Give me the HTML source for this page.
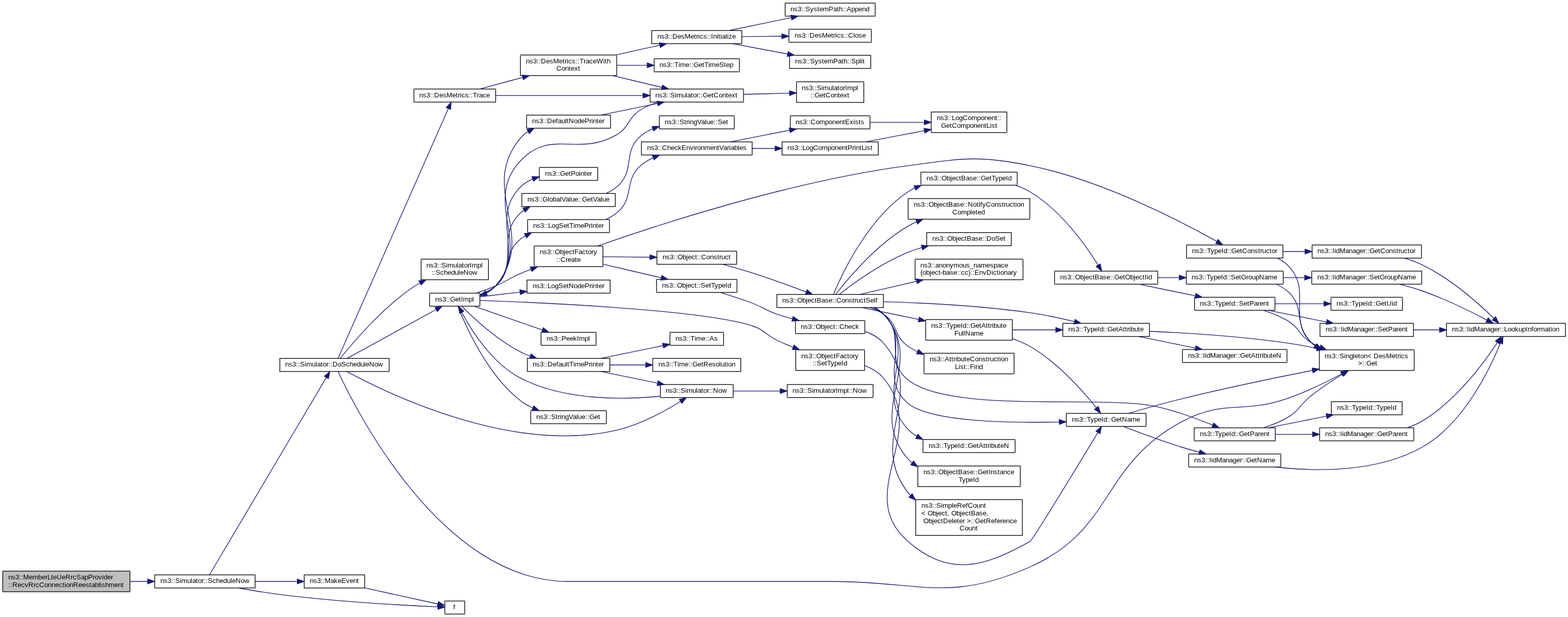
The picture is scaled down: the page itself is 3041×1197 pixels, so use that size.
<!DOCTYPE html>
<html lang="en">
<head>
<meta charset="utf-8">
<title>ns3::MemberLteUeRrcSapProvider::RecvRrcConnectionReestablishment call graph</title>
<style>
html,body{margin:0;padding:0;background:#fff;}
body{width:3041px;height:1197px;}
svg{display:block;will-change:transform;}
text{font-family:"Liberation Sans",Arial,Helvetica,sans-serif;font-size:13.3333px;fill:#000;white-space:pre;}
.n polygon{stroke:#000;stroke-width:1.3333;}
.n rect{shape-rendering:crispEdges;}
.n rect.b{fill:#000;}
.e path{fill:none;stroke:#191970;stroke-width:1.3333;}
.e polygon{fill:#191970;stroke:#191970;stroke-width:1.3333;}
</style>
</head>
<body>
<svg width="3041" height="1197" viewBox="0 0 3041 1197" role="img" aria-label="Call graph">
<rect x="0" y="0" width="3041" height="1197" fill="#ffffff"/>
<g class="n">
<rect class="f" x="5.33" y="1108" width="246.67" height="40" fill="#bfbfbf"/>
<rect class="b" x="5" y="1107" width="247" height="1" fill-opacity="0.667"/>
<rect class="b" x="4" y="1107" width="1" height="1" fill-opacity="0.222"/>
<rect class="b" x="252" y="1107" width="1" height="1" fill-opacity="0.444"/>
<rect class="b" x="5" y="1108" width="247" height="1" fill-opacity="0.667"/>
<rect class="b" x="4" y="1108" width="1" height="1" fill-opacity="0.222"/>
<rect class="b" x="252" y="1108" width="1" height="1" fill-opacity="0.444"/>
<rect class="b" x="5" y="1147" width="247" height="1" fill-opacity="0.667"/>
<rect class="b" x="4" y="1147" width="1" height="1" fill-opacity="0.222"/>
<rect class="b" x="252" y="1147" width="1" height="1" fill-opacity="0.444"/>
<rect class="b" x="5" y="1148" width="247" height="1" fill-opacity="0.667"/>
<rect class="b" x="4" y="1148" width="1" height="1" fill-opacity="0.222"/>
<rect class="b" x="252" y="1148" width="1" height="1" fill-opacity="0.444"/>
<rect class="b" x="4" y="1109" width="1" height="38" fill-opacity="0.333"/>
<rect class="b" x="5" y="1109" width="1" height="38"/>
<rect class="b" x="251" y="1109" width="1" height="38" fill-opacity="0.667"/>
<rect class="b" x="252" y="1109" width="1" height="38" fill-opacity="0.667"/>
<text x="16 23 30 37 41 45 56 63 74 81 88 92 99 103 110 120 127 137 141 148 157 164 171 180 184 191 198 201 208 215" y="1124">ns3::MemberLteUeRrcSapProvider</text>
<text x="16 20 24 34 41 48 55 65 69 76 86 93 100 107 114 121 125 128 135 142 152 159 166 173 177 184 191 194 197 204 211 222 229 236" y="1139">::RecvRrcConnectionReestablishment</text>
</g>
<g class="n">
<rect class="b" x="300" y="1114" width="195" height="1" fill-opacity="0.333"/>
<rect class="b" x="299" y="1114" width="1" height="1" fill-opacity="0.222"/>
<rect class="b" x="495" y="1114" width="1" height="1" fill-opacity="0.111"/>
<rect class="b" x="300" y="1115" width="195" height="1"/>
<rect class="b" x="299" y="1115" width="1" height="1" fill-opacity="0.667"/>
<rect class="b" x="495" y="1115" width="1" height="1" fill-opacity="0.333"/>
<rect class="b" x="300" y="1140" width="195" height="1"/>
<rect class="b" x="299" y="1140" width="1" height="1" fill-opacity="0.667"/>
<rect class="b" x="495" y="1140" width="1" height="1" fill-opacity="0.333"/>
<rect class="b" x="300" y="1141" width="195" height="1" fill-opacity="0.333"/>
<rect class="b" x="299" y="1141" width="1" height="1" fill-opacity="0.222"/>
<rect class="b" x="495" y="1141" width="1" height="1" fill-opacity="0.111"/>
<rect class="b" x="299" y="1116" width="1" height="24" fill-opacity="0.667"/>
<rect class="b" x="300" y="1116" width="1" height="24" fill-opacity="0.667"/>
<rect class="b" x="494" y="1116" width="1" height="24"/>
<rect class="b" x="495" y="1116" width="1" height="24" fill-opacity="0.333"/>
<text x="311 318 325 332 336 340 349 352 363 370 373 380 384 391 395 399 403 412 419 426 433 440 447 450 457 467 474" y="1131">ns3::Simulator::ScheduleNow</text>
</g>
<g class="e"><path d="M252.11,1128C263.47,1128 274.93,1128 286.17,1128"/><polygon points="286.41,1123.33 299.75,1128 286.41,1132.67 286.41,1123.33"/></g>
<g class="n">
<rect class="b" x="542" y="694" width="213" height="1" fill-opacity="0.333"/>
<rect class="b" x="755" y="694" width="1" height="1" fill-opacity="0.111"/>
<rect class="b" x="542" y="695" width="213" height="1"/>
<rect class="b" x="755" y="695" width="1" height="1" fill-opacity="0.333"/>
<rect class="b" x="542" y="720" width="213" height="1"/>
<rect class="b" x="755" y="720" width="1" height="1" fill-opacity="0.333"/>
<rect class="b" x="542" y="721" width="213" height="1" fill-opacity="0.333"/>
<rect class="b" x="755" y="721" width="1" height="1" fill-opacity="0.111"/>
<rect class="b" x="542" y="696" width="1" height="24"/>
<rect class="b" x="543" y="696" width="1" height="24" fill-opacity="0.333"/>
<rect class="b" x="754" y="696" width="1" height="24"/>
<rect class="b" x="755" y="696" width="1" height="24" fill-opacity="0.333"/>
<text x="553 560 567 574 578 582 591 594 605 612 615 622 626 633 637 641 645 655 662 671 678 685 692 699 706 709 716 726 733" y="711">ns3::Simulator::DoScheduleNow</text>
</g>
<g class="e"><path d="M406.39,1114.97C441.48,1055.68 586.39,810.95 632.89,732.39"/><polygon points="628.89,729.97 639.71,720.88 636.93,734.73 628.89,729.97"/></g>
<g class="n">
<rect class="b" x="862" y="1165" width="40" height="1" fill-opacity="0.667"/>
<rect class="b" x="862" y="1166" width="40" height="1" fill-opacity="0.667"/>
<rect class="b" x="862" y="1190" width="40" height="1" fill-opacity="0.333"/>
<rect class="b" x="862" y="1191" width="40" height="1"/>
<rect class="b" x="862" y="1167" width="1" height="23"/>
<rect class="b" x="863" y="1167" width="1" height="23" fill-opacity="0.333"/>
<rect class="b" x="900" y="1167" width="1" height="23" fill-opacity="0.333"/>
<rect class="b" x="901" y="1167" width="1" height="23"/>
<text x="879" y="1182">f</text>
</g>
<g class="e"><path d="M462.97,1140.72C487.8,1145.27 516.47,1150.05 542.67,1153.33 654.89,1167.37 789.15,1174.61 849.07,1177.35"/><polygon points="849.53,1172.69 862.65,1177.95 849.12,1182.03 849.53,1172.69"/></g>
<g class="n">
<rect class="b" x="590" y="1114" width="118" height="1" fill-opacity="0.333"/>
<rect class="b" x="589" y="1114" width="1" height="1" fill-opacity="0.222"/>
<rect class="b" x="590" y="1115" width="118" height="1"/>
<rect class="b" x="589" y="1115" width="1" height="1" fill-opacity="0.667"/>
<rect class="b" x="590" y="1140" width="118" height="1"/>
<rect class="b" x="589" y="1140" width="1" height="1" fill-opacity="0.667"/>
<rect class="b" x="590" y="1141" width="118" height="1" fill-opacity="0.333"/>
<rect class="b" x="589" y="1141" width="1" height="1" fill-opacity="0.222"/>
<rect class="b" x="589" y="1116" width="1" height="24" fill-opacity="0.667"/>
<rect class="b" x="590" y="1116" width="1" height="24" fill-opacity="0.667"/>
<rect class="b" x="706" y="1116" width="1" height="24" fill-opacity="0.333"/>
<rect class="b" x="707" y="1116" width="1" height="24"/>
<text x="601 608 615 622 626 630 641 648 655 662 671 678 685 692" y="1131">ns3::MakeEvent</text>
</g>
<g class="e"><path d="M494.81,1128C521.91,1128 550.89,1128 576.24,1128"/><polygon points="576.57,1123.33 589.91,1128 576.57,1132.67 576.57,1123.33"/></g>
<g class="n">
<rect class="b" x="2558" y="678" width="185" height="1"/>
<rect class="b" x="2743" y="678" width="1" height="1" fill-opacity="0.333"/>
<rect class="b" x="2558" y="679" width="185" height="1" fill-opacity="0.333"/>
<rect class="b" x="2743" y="679" width="1" height="1" fill-opacity="0.111"/>
<rect class="b" x="2558" y="718" width="185" height="1"/>
<rect class="b" x="2743" y="718" width="1" height="1" fill-opacity="0.333"/>
<rect class="b" x="2558" y="719" width="185" height="1" fill-opacity="0.333"/>
<rect class="b" x="2743" y="719" width="1" height="1" fill-opacity="0.111"/>
<rect class="b" x="2558" y="680" width="1" height="38"/>
<rect class="b" x="2559" y="680" width="1" height="38" fill-opacity="0.333"/>
<rect class="b" x="2742" y="680" width="1" height="38"/>
<rect class="b" x="2743" y="680" width="1" height="38" fill-opacity="0.333"/>
<text x="2569 2576 2583 2590 2594 2598 2607 2610 2617 2624 2627 2634 2638 2645 2652 2660 2664 2674 2681 2688 2699 2706 2710 2714 2717 2724" y="695">ns3::Singleton&lt; DesMetrics</text>
<text xml:space="preserve" x="2630 2634 2642 2646 2650 2660 2667" y="709"> &gt;::Get</text>
</g>
<g class="e"><path d="M655.83,721.03C688.48,791.92 856.23,1128 1101.33,1128 1101.33,1128 1101.33,1128 1611.33,1128 1783.33,1128 1840.09,1169.72 1997.33,1100 2163.63,1026.27 2132.67,902.64 2293.33,817.33 2374.75,774.11 2408.91,803.51 2496,773.33 2532.72,760.61 2572.09,741.31 2601.75,725.52"/><polygon points="2599.88,721.23 2613.83,718.99 2604.31,729.44 2599.88,721.23"/></g>
<g class="n">
<rect class="b" x="833" y="568" width="98" height="1"/>
<rect class="b" x="832" y="568" width="1" height="1" fill-opacity="0.333"/>
<rect class="b" x="931" y="568" width="1" height="1" fill-opacity="0.333"/>
<rect class="b" x="833" y="569" width="98" height="1" fill-opacity="0.333"/>
<rect class="b" x="832" y="569" width="1" height="1" fill-opacity="0.111"/>
<rect class="b" x="931" y="569" width="1" height="1" fill-opacity="0.111"/>
<rect class="b" x="833" y="593" width="98" height="1" fill-opacity="0.667"/>
<rect class="b" x="832" y="593" width="1" height="1" fill-opacity="0.222"/>
<rect class="b" x="931" y="593" width="1" height="1" fill-opacity="0.222"/>
<rect class="b" x="833" y="594" width="98" height="1" fill-opacity="0.667"/>
<rect class="b" x="832" y="594" width="1" height="1" fill-opacity="0.222"/>
<rect class="b" x="931" y="594" width="1" height="1" fill-opacity="0.222"/>
<rect class="b" x="832" y="570" width="1" height="23" fill-opacity="0.333"/>
<rect class="b" x="833" y="570" width="1" height="23"/>
<rect class="b" x="930" y="570" width="1" height="23"/>
<rect class="b" x="931" y="570" width="1" height="23" fill-opacity="0.333"/>
<text x="844 851 858 865 869 873 883 890 894 898 909 916" y="585">ns3::GetImpl</text>
</g>
<g class="e"><path d="M673.39,695.16C714.08,672.81 798.09,626.68 845.72,600.52"/><polygon points="843.63,596.35 857.56,594.03 848.12,604.53 843.63,596.35"/></g>
<g class="n">
<rect class="b" x="1280" y="745" width="142" height="1" fill-opacity="0.667"/>
<rect class="b" x="1422" y="745" width="1" height="1" fill-opacity="0.444"/>
<rect class="b" x="1280" y="746" width="142" height="1" fill-opacity="0.667"/>
<rect class="b" x="1422" y="746" width="1" height="1" fill-opacity="0.444"/>
<rect class="b" x="1280" y="770" width="142" height="1" fill-opacity="0.333"/>
<rect class="b" x="1422" y="770" width="1" height="1" fill-opacity="0.222"/>
<rect class="b" x="1280" y="771" width="142" height="1"/>
<rect class="b" x="1422" y="771" width="1" height="1" fill-opacity="0.667"/>
<rect class="b" x="1280" y="747" width="1" height="23"/>
<rect class="b" x="1281" y="747" width="1" height="23" fill-opacity="0.333"/>
<rect class="b" x="1421" y="747" width="1" height="23" fill-opacity="0.667"/>
<rect class="b" x="1422" y="747" width="1" height="23" fill-opacity="0.667"/>
<text x="1291 1298 1305 1312 1316 1320 1329 1332 1343 1350 1353 1360 1364 1371 1375 1379 1383 1393 1400" y="762">ns3::Simulator::Now</text>
</g>
<g class="e"><path d="M672.89,720.93C747.92,761.68 993.2,881.99 1196,834.67 1241.93,823.95 1289.91,797.45 1319.85,778.77"/><polygon points="1317.41,774.8 1331.16,771.56 1322.43,782.67 1317.41,774.8"/></g>
<g class="n">
<rect class="b" x="816" y="502" width="132" height="1"/>
<rect class="b" x="816" y="503" width="132" height="1" fill-opacity="0.333"/>
<rect class="b" x="816" y="542" width="132" height="1"/>
<rect class="b" x="816" y="543" width="132" height="1" fill-opacity="0.333"/>
<rect class="b" x="816" y="504" width="1" height="38"/>
<rect class="b" x="817" y="504" width="1" height="38" fill-opacity="0.333"/>
<rect class="b" x="946" y="504" width="1" height="38" fill-opacity="0.333"/>
<rect class="b" x="947" y="504" width="1" height="38"/>
<text x="827 834 841 848 852 856 865 868 879 886 889 896 900 907 911 915 926 933" y="519">ns3::SimulatorImpl</text>
<text x="837 841 845 854 861 868 875 882 889 892 899 909 916" y="533">::ScheduleNow</text>
</g>
<g class="e"><path d="M660.16,694.95C682.95,666.39 740.97,597.63 802.67,556 806.33,553.53 810.2,551.17 814.19,548.96"/><polygon points="812.4,544.63 826.39,542.68 816.68,552.93 812.4,544.63"/></g>
<g class="n">
<rect class="b" x="802" y="172" width="160" height="1"/>
<rect class="b" x="802" y="173" width="160" height="1" fill-opacity="0.333"/>
<rect class="b" x="802" y="197" width="160" height="1" fill-opacity="0.667"/>
<rect class="b" x="802" y="198" width="160" height="1" fill-opacity="0.667"/>
<rect class="b" x="802" y="174" width="1" height="23"/>
<rect class="b" x="803" y="174" width="1" height="23" fill-opacity="0.333"/>
<rect class="b" x="960" y="174" width="1" height="23" fill-opacity="0.333"/>
<rect class="b" x="961" y="174" width="1" height="23"/>
<text x="813 820 827 834 838 842 852 859 866 877 884 888 892 895 902 909 913 917 925 929 936 943" y="189">ns3::DesMetrics::Trace</text>
</g>
<g class="e"><path d="M655.71,695.08C685.99,626.45 828.2,304.21 869.44,210.79"/><polygon points="865.31,208.59 874.96,198.27 873.84,212.35 865.31,208.59"/></g>
<g class="n">
<rect class="b" x="1036" y="476" width="134" height="1" fill-opacity="0.333"/>
<rect class="b" x="1035" y="476" width="1" height="1" fill-opacity="0.222"/>
<rect class="b" x="1036" y="477" width="134" height="1"/>
<rect class="b" x="1035" y="477" width="1" height="1" fill-opacity="0.667"/>
<rect class="b" x="1036" y="516" width="134" height="1" fill-opacity="0.333"/>
<rect class="b" x="1035" y="516" width="1" height="1" fill-opacity="0.222"/>
<rect class="b" x="1036" y="517" width="134" height="1"/>
<rect class="b" x="1035" y="517" width="1" height="1" fill-opacity="0.667"/>
<rect class="b" x="1035" y="478" width="1" height="38" fill-opacity="0.667"/>
<rect class="b" x="1036" y="478" width="1" height="38" fill-opacity="0.667"/>
<rect class="b" x="1168" y="478" width="1" height="38" fill-opacity="0.333"/>
<rect class="b" x="1169" y="478" width="1" height="38"/>
<text x="1047 1054 1061 1068 1072 1076 1086 1093 1096 1103 1110 1114 1122 1129 1136 1140 1147 1151" y="493">ns3::ObjectFactory</text>
<text x="1079 1083 1087 1097 1101 1108 1115 1119" y="508">::Create</text>
</g>
<g class="e"><path d="M923.8,568.65C935.99,564.52 949.32,559.69 961.33,554.67 983.33,545.45 987.41,540.08 1009.33,530.67 1015.97,527.81 1022.93,525 1029.95,522.27"/><polygon points="1028.41,517.87 1042.53,517.48 1031.73,526.59 1028.41,517.87"/></g>
<g class="n">
<rect class="b" x="1021" y="222" width="163" height="1" fill-opacity="0.333"/>
<rect class="b" x="1020" y="222" width="1" height="1" fill-opacity="0.111"/>
<rect class="b" x="1184" y="222" width="1" height="1" fill-opacity="0.222"/>
<rect class="b" x="1021" y="223" width="163" height="1"/>
<rect class="b" x="1020" y="223" width="1" height="1" fill-opacity="0.333"/>
<rect class="b" x="1184" y="223" width="1" height="1" fill-opacity="0.667"/>
<rect class="b" x="1021" y="248" width="163" height="1"/>
<rect class="b" x="1020" y="248" width="1" height="1" fill-opacity="0.333"/>
<rect class="b" x="1184" y="248" width="1" height="1" fill-opacity="0.667"/>
<rect class="b" x="1021" y="249" width="163" height="1" fill-opacity="0.333"/>
<rect class="b" x="1020" y="249" width="1" height="1" fill-opacity="0.111"/>
<rect class="b" x="1184" y="249" width="1" height="1" fill-opacity="0.222"/>
<rect class="b" x="1020" y="224" width="1" height="24" fill-opacity="0.333"/>
<rect class="b" x="1021" y="224" width="1" height="24"/>
<rect class="b" x="1183" y="224" width="1" height="24" fill-opacity="0.667"/>
<rect class="b" x="1184" y="224" width="1" height="24" fill-opacity="0.667"/>
<text x="1032 1039 1046 1053 1057 1061 1071 1078 1082 1089 1096 1099 1103 1113 1120 1127 1134 1143 1147 1150 1157 1161 1168" y="239">ns3::DefaultNodePrinter</text>
</g>
<g class="e"><path d="M930.71,573.95C942.21,570 953.47,563.95 961.33,554.67 1044.91,456.17 926.01,366.72 1009.33,268 1013.55,263.01 1018.57,258.8 1024.08,255.24"/><polygon points="1022,251.07 1035.96,248.83 1026.44,259.28 1022,251.07"/></g>
<g class="n">
<rect class="b" x="1022" y="694" width="161" height="1" fill-opacity="0.333"/>
<rect class="b" x="1183" y="694" width="1" height="1" fill-opacity="0.111"/>
<rect class="b" x="1022" y="695" width="161" height="1"/>
<rect class="b" x="1183" y="695" width="1" height="1" fill-opacity="0.333"/>
<rect class="b" x="1022" y="720" width="161" height="1"/>
<rect class="b" x="1183" y="720" width="1" height="1" fill-opacity="0.333"/>
<rect class="b" x="1022" y="721" width="161" height="1" fill-opacity="0.333"/>
<rect class="b" x="1183" y="721" width="1" height="1" fill-opacity="0.111"/>
<rect class="b" x="1022" y="696" width="1" height="24"/>
<rect class="b" x="1023" y="696" width="1" height="24" fill-opacity="0.333"/>
<rect class="b" x="1182" y="696" width="1" height="24"/>
<rect class="b" x="1183" y="696" width="1" height="24" fill-opacity="0.333"/>
<text x="1033 1040 1047 1054 1058 1062 1072 1079 1083 1090 1097 1100 1104 1112 1115 1126 1133 1142 1146 1149 1156 1160 1167" y="711">ns3::DefaultTimePrinter</text>
</g>
<g class="e"><path d="M895.68,594.24C916.91,615.71 962.6,658.75 1009.33,682.67 1015.36,685.75 1021.8,688.49 1028.37,690.92"/><polygon points="1029.96,686.53 1041.09,695.23 1026.97,695.37 1029.96,686.53"/></g>
<g class="n">
<rect class="b" x="1029" y="796" width="147" height="1"/>
<rect class="b" x="1028" y="796" width="1" height="1" fill-opacity="0.333"/>
<rect class="b" x="1176" y="796" width="1" height="1" fill-opacity="0.667"/>
<rect class="b" x="1029" y="797" width="147" height="1" fill-opacity="0.333"/>
<rect class="b" x="1028" y="797" width="1" height="1" fill-opacity="0.111"/>
<rect class="b" x="1176" y="797" width="1" height="1" fill-opacity="0.222"/>
<rect class="b" x="1029" y="821" width="147" height="1" fill-opacity="0.667"/>
<rect class="b" x="1028" y="821" width="1" height="1" fill-opacity="0.222"/>
<rect class="b" x="1176" y="821" width="1" height="1" fill-opacity="0.444"/>
<rect class="b" x="1029" y="822" width="147" height="1" fill-opacity="0.667"/>
<rect class="b" x="1028" y="822" width="1" height="1" fill-opacity="0.222"/>
<rect class="b" x="1176" y="822" width="1" height="1" fill-opacity="0.444"/>
<rect class="b" x="1028" y="798" width="1" height="23" fill-opacity="0.333"/>
<rect class="b" x="1029" y="798" width="1" height="23"/>
<rect class="b" x="1175" y="798" width="1" height="23" fill-opacity="0.667"/>
<rect class="b" x="1176" y="798" width="1" height="23" fill-opacity="0.667"/>
<text x="1040 1047 1054 1061 1065 1069 1078 1082 1086 1089 1096 1103 1111 1118 1121 1128 1135 1139 1143 1153 1160" y="813">ns3::StringValue::Get</text>
</g>
<g class="e"><path d="M888.19,594.43C901.77,629.35 943.55,725.52 1009.33,777.33 1016.48,782.96 1024.67,787.63 1033.17,791.51"/><polygon points="1035.16,787.27 1045.75,796.63 1031.63,795.92 1035.16,787.27"/></g>
<g class="n">
<rect class="b" x="1046" y="324" width="114" height="1"/>
<rect class="b" x="1045" y="324" width="1" height="1" fill-opacity="0.667"/>
<rect class="b" x="1046" y="325" width="114" height="1" fill-opacity="0.333"/>
<rect class="b" x="1045" y="325" width="1" height="1" fill-opacity="0.222"/>
<rect class="b" x="1046" y="349" width="114" height="1" fill-opacity="0.667"/>
<rect class="b" x="1045" y="349" width="1" height="1" fill-opacity="0.444"/>
<rect class="b" x="1046" y="350" width="114" height="1" fill-opacity="0.667"/>
<rect class="b" x="1045" y="350" width="1" height="1" fill-opacity="0.444"/>
<rect class="b" x="1045" y="326" width="1" height="23" fill-opacity="0.667"/>
<rect class="b" x="1046" y="326" width="1" height="23" fill-opacity="0.667"/>
<rect class="b" x="1158" y="326" width="1" height="23" fill-opacity="0.333"/>
<rect class="b" x="1159" y="326" width="1" height="23"/>
<text x="1057 1064 1071 1078 1082 1086 1096 1103 1107 1116 1123 1126 1133 1137 1144" y="341">ns3::GetPointer</text>
</g>
<g class="e"><path d="M931.04,573.24C942.27,569.29 953.29,563.41 961.33,554.67 1020.85,489.89 947.88,425.6 1009.33,362.67 1015.87,355.97 1023.99,351 1032.68,347.32"/><polygon points="1031.59,342.76 1045.72,342.79 1034.65,351.57 1031.59,342.76"/></g>
<g class="n">
<rect class="b" x="1012" y="374" width="182" height="1" fill-opacity="0.333"/>
<rect class="b" x="1011" y="374" width="1" height="1" fill-opacity="0.222"/>
<rect class="b" x="1012" y="375" width="182" height="1"/>
<rect class="b" x="1011" y="375" width="1" height="1" fill-opacity="0.667"/>
<rect class="b" x="1012" y="400" width="182" height="1"/>
<rect class="b" x="1011" y="400" width="1" height="1" fill-opacity="0.667"/>
<rect class="b" x="1012" y="401" width="182" height="1" fill-opacity="0.333"/>
<rect class="b" x="1011" y="401" width="1" height="1" fill-opacity="0.222"/>
<rect class="b" x="1011" y="376" width="1" height="24" fill-opacity="0.667"/>
<rect class="b" x="1012" y="376" width="1" height="24" fill-opacity="0.667"/>
<rect class="b" x="1192" y="376" width="1" height="24" fill-opacity="0.333"/>
<rect class="b" x="1193" y="376" width="1" height="24"/>
<text x="1023 1030 1037 1044 1048 1052 1062 1065 1072 1079 1086 1089 1097 1104 1107 1114 1121 1125 1129 1139 1146 1150 1158 1165 1168 1175" y="391">ns3::GlobalValue::GetValue</text>
</g>
<g class="e"><path d="M930.96,572.64C942.07,568.69 953.04,562.97 961.33,554.67 1008.2,507.71 961.07,458.84 1009.33,413.33 1011.53,411.25 1013.89,409.35 1016.37,407.59"/><polygon points="1014.05,403.55 1027.92,400.84 1018.76,411.6 1014.05,403.55"/></g>
<g class="n">
<rect class="b" x="1022" y="542" width="162" height="1" fill-opacity="0.333"/>
<rect class="b" x="1021" y="542" width="1" height="1" fill-opacity="0.222"/>
<rect class="b" x="1022" y="543" width="162" height="1"/>
<rect class="b" x="1021" y="543" width="1" height="1" fill-opacity="0.667"/>
<rect class="b" x="1022" y="568" width="162" height="1"/>
<rect class="b" x="1021" y="568" width="1" height="1" fill-opacity="0.667"/>
<rect class="b" x="1022" y="569" width="162" height="1" fill-opacity="0.333"/>
<rect class="b" x="1021" y="569" width="1" height="1" fill-opacity="0.222"/>
<rect class="b" x="1021" y="544" width="1" height="24" fill-opacity="0.667"/>
<rect class="b" x="1022" y="544" width="1" height="24" fill-opacity="0.667"/>
<rect class="b" x="1182" y="544" width="1" height="24" fill-opacity="0.333"/>
<rect class="b" x="1183" y="544" width="1" height="24"/>
<text x="1033 1040 1047 1054 1058 1062 1069 1076 1083 1092 1099 1103 1113 1120 1127 1134 1143 1147 1150 1157 1161 1168" y="559">ns3::LogSetNodePrinter</text>
</g>
<g class="e"><path d="M931.17,575.77C953.91,573.13 981.88,569.88 1008.53,566.79"/><polygon points="1008.12,562.13 1021.91,565.23 1009.2,571.4 1008.12,562.13"/></g>
<g class="n">
<rect class="b" x="1023" y="425" width="159" height="1" fill-opacity="0.667"/>
<rect class="b" x="1022" y="425" width="1" height="1" fill-opacity="0.222"/>
<rect class="b" x="1182" y="425" width="1" height="1" fill-opacity="0.444"/>
<rect class="b" x="1023" y="426" width="159" height="1" fill-opacity="0.667"/>
<rect class="b" x="1022" y="426" width="1" height="1" fill-opacity="0.222"/>
<rect class="b" x="1182" y="426" width="1" height="1" fill-opacity="0.444"/>
<rect class="b" x="1023" y="450" width="159" height="1" fill-opacity="0.333"/>
<rect class="b" x="1022" y="450" width="1" height="1" fill-opacity="0.111"/>
<rect class="b" x="1182" y="450" width="1" height="1" fill-opacity="0.222"/>
<rect class="b" x="1023" y="451" width="159" height="1"/>
<rect class="b" x="1022" y="451" width="1" height="1" fill-opacity="0.333"/>
<rect class="b" x="1182" y="451" width="1" height="1" fill-opacity="0.667"/>
<rect class="b" x="1022" y="427" width="1" height="23" fill-opacity="0.333"/>
<rect class="b" x="1023" y="427" width="1" height="23"/>
<rect class="b" x="1181" y="427" width="1" height="23" fill-opacity="0.667"/>
<rect class="b" x="1182" y="427" width="1" height="23" fill-opacity="0.667"/>
<text x="1034 1041 1048 1055 1059 1063 1070 1077 1084 1093 1100 1104 1112 1115 1126 1133 1142 1146 1149 1156 1160 1167" y="442">ns3::LogSetTimePrinter</text>
</g>
<g class="e"><path d="M930.89,571.39C941.75,567.49 952.63,562.11 961.33,554.67 996.01,525.07 973.77,492.53 1009.33,464 1012.36,461.57 1015.6,459.37 1019,457.39"/><polygon points="1017.03,453.16 1031.04,451.41 1021.17,461.52 1017.03,453.16"/></g>
<g class="n">
<rect class="b" x="1049" y="644" width="107" height="1"/>
<rect class="b" x="1048" y="644" width="1" height="1" fill-opacity="0.333"/>
<rect class="b" x="1156" y="644" width="1" height="1" fill-opacity="0.667"/>
<rect class="b" x="1049" y="645" width="107" height="1" fill-opacity="0.333"/>
<rect class="b" x="1048" y="645" width="1" height="1" fill-opacity="0.111"/>
<rect class="b" x="1156" y="645" width="1" height="1" fill-opacity="0.222"/>
<rect class="b" x="1049" y="669" width="107" height="1" fill-opacity="0.667"/>
<rect class="b" x="1048" y="669" width="1" height="1" fill-opacity="0.222"/>
<rect class="b" x="1156" y="669" width="1" height="1" fill-opacity="0.444"/>
<rect class="b" x="1049" y="670" width="107" height="1" fill-opacity="0.667"/>
<rect class="b" x="1048" y="670" width="1" height="1" fill-opacity="0.222"/>
<rect class="b" x="1156" y="670" width="1" height="1" fill-opacity="0.444"/>
<rect class="b" x="1048" y="646" width="1" height="23" fill-opacity="0.333"/>
<rect class="b" x="1049" y="646" width="1" height="23"/>
<rect class="b" x="1155" y="646" width="1" height="23" fill-opacity="0.667"/>
<rect class="b" x="1156" y="646" width="1" height="23" fill-opacity="0.667"/>
<text x="1060 1067 1074 1081 1085 1089 1098 1105 1112 1119 1123 1134 1141" y="661">ns3::PeekImpl</text>
</g>
<g class="e"><path d="M919.72,594.05C944.88,602.84 979.13,614.81 1009.33,625.33 1023.13,630.15 1038.09,635.35 1051.87,640.13"/><polygon points="1053.56,635.79 1064.61,644.57 1050.49,644.6 1053.56,635.79"/></g>
<g class="n">
<rect class="b" x="1543" y="678" width="134" height="1"/>
<rect class="b" x="1542" y="678" width="1" height="1" fill-opacity="0.333"/>
<rect class="b" x="1677" y="678" width="1" height="1" fill-opacity="0.333"/>
<rect class="b" x="1543" y="679" width="134" height="1" fill-opacity="0.333"/>
<rect class="b" x="1542" y="679" width="1" height="1" fill-opacity="0.111"/>
<rect class="b" x="1677" y="679" width="1" height="1" fill-opacity="0.111"/>
<rect class="b" x="1543" y="718" width="134" height="1"/>
<rect class="b" x="1542" y="718" width="1" height="1" fill-opacity="0.333"/>
<rect class="b" x="1677" y="718" width="1" height="1" fill-opacity="0.333"/>
<rect class="b" x="1543" y="719" width="134" height="1" fill-opacity="0.333"/>
<rect class="b" x="1542" y="719" width="1" height="1" fill-opacity="0.111"/>
<rect class="b" x="1677" y="719" width="1" height="1" fill-opacity="0.111"/>
<rect class="b" x="1542" y="680" width="1" height="38" fill-opacity="0.333"/>
<rect class="b" x="1543" y="680" width="1" height="38"/>
<rect class="b" x="1676" y="680" width="1" height="38"/>
<rect class="b" x="1677" y="680" width="1" height="38" fill-opacity="0.333"/>
<text x="1554 1561 1568 1575 1579 1583 1593 1600 1603 1610 1617 1621 1629 1636 1643 1647 1654 1658" y="695">ns3::ObjectFactory</text>
<text x="1576 1580 1584 1593 1600 1604 1611 1618 1625 1632 1636" y="709">::SetTypeId</text>
</g>
<g class="e"><path d="M931.08,582.85C1050.71,587.09 1360.72,600.85 1458.67,632 1482.2,639.48 1484.37,649.36 1506.67,660 1516.75,664.81 1527.59,669.45 1538.31,673.75"/><polygon points="1540.07,669.43 1550.79,678.63 1536.67,678.12 1540.07,669.43"/></g>
<g class="n">
<rect class="b" x="1274" y="486" width="155" height="1" fill-opacity="0.333"/>
<rect class="b" x="1273" y="486" width="1" height="1" fill-opacity="0.222"/>
<rect class="b" x="1429" y="486" width="1" height="1" fill-opacity="0.111"/>
<rect class="b" x="1274" y="487" width="155" height="1"/>
<rect class="b" x="1273" y="487" width="1" height="1" fill-opacity="0.667"/>
<rect class="b" x="1429" y="487" width="1" height="1" fill-opacity="0.333"/>
<rect class="b" x="1274" y="512" width="155" height="1"/>
<rect class="b" x="1273" y="512" width="1" height="1" fill-opacity="0.667"/>
<rect class="b" x="1429" y="512" width="1" height="1" fill-opacity="0.333"/>
<rect class="b" x="1274" y="513" width="155" height="1" fill-opacity="0.333"/>
<rect class="b" x="1273" y="513" width="1" height="1" fill-opacity="0.222"/>
<rect class="b" x="1429" y="513" width="1" height="1" fill-opacity="0.111"/>
<rect class="b" x="1273" y="488" width="1" height="24" fill-opacity="0.667"/>
<rect class="b" x="1274" y="488" width="1" height="24" fill-opacity="0.667"/>
<rect class="b" x="1428" y="488" width="1" height="24"/>
<rect class="b" x="1429" y="488" width="1" height="24" fill-opacity="0.333"/>
<text x="1285 1292 1299 1306 1310 1314 1324 1331 1334 1341 1348 1352 1356 1360 1370 1377 1384 1391 1395 1399 1406 1413" y="503">ns3::Object::Construct</text>
</g>
<g class="e"><path d="M1169.92,498.05C1197.69,498.35 1230.45,498.71 1260.36,499.03"/><polygon points="1260.59,494.36 1273.87,499.17 1260.49,503.69 1260.59,494.36"/></g>
<g class="n">
<rect class="b" x="2301" y="474" width="187" height="1" fill-opacity="0.333"/>
<rect class="b" x="2300" y="474" width="1" height="1" fill-opacity="0.111"/>
<rect class="b" x="2488" y="474" width="1" height="1" fill-opacity="0.222"/>
<rect class="b" x="2301" y="475" width="187" height="1"/>
<rect class="b" x="2300" y="475" width="1" height="1" fill-opacity="0.333"/>
<rect class="b" x="2488" y="475" width="1" height="1" fill-opacity="0.667"/>
<rect class="b" x="2301" y="500" width="187" height="1"/>
<rect class="b" x="2300" y="500" width="1" height="1" fill-opacity="0.333"/>
<rect class="b" x="2488" y="500" width="1" height="1" fill-opacity="0.667"/>
<rect class="b" x="2301" y="501" width="187" height="1" fill-opacity="0.333"/>
<rect class="b" x="2300" y="501" width="1" height="1" fill-opacity="0.111"/>
<rect class="b" x="2488" y="501" width="1" height="1" fill-opacity="0.222"/>
<rect class="b" x="2300" y="476" width="1" height="24" fill-opacity="0.333"/>
<rect class="b" x="2301" y="476" width="1" height="24"/>
<rect class="b" x="2487" y="476" width="1" height="24" fill-opacity="0.667"/>
<rect class="b" x="2488" y="476" width="1" height="24" fill-opacity="0.667"/>
<text x="2312 2319 2326 2333 2337 2341 2348 2355 2362 2369 2373 2380 2384 2388 2398 2405 2409 2419 2426 2433 2440 2444 2448 2455 2462 2466 2473" y="491">ns3::TypeId::GetConstructor</text>
</g>
<g class="e"><path d="M1159.28,477.24C1271.09,437.77 1532.93,351.39 1761.33,321.33 1865.32,307.65 1894.52,300.57 1997.33,321.33 2139.17,349.96 2293.45,430.92 2359.85,468.44"/><polygon points="2362.31,464.47 2371.57,475.13 2357.68,472.57 2362.31,464.47"/></g>
<g class="n">
<rect class="b" x="1273" y="541" width="157" height="1" fill-opacity="0.667"/>
<rect class="b" x="1272" y="541" width="1" height="1" fill-opacity="0.222"/>
<rect class="b" x="1273" y="542" width="157" height="1" fill-opacity="0.667"/>
<rect class="b" x="1272" y="542" width="1" height="1" fill-opacity="0.222"/>
<rect class="b" x="1273" y="566" width="157" height="1" fill-opacity="0.333"/>
<rect class="b" x="1272" y="566" width="1" height="1" fill-opacity="0.111"/>
<rect class="b" x="1273" y="567" width="157" height="1"/>
<rect class="b" x="1272" y="567" width="1" height="1" fill-opacity="0.333"/>
<rect class="b" x="1272" y="543" width="1" height="23" fill-opacity="0.333"/>
<rect class="b" x="1273" y="543" width="1" height="23"/>
<rect class="b" x="1428" y="543" width="1" height="23" fill-opacity="0.333"/>
<rect class="b" x="1429" y="543" width="1" height="23"/>
<text x="1284 1291 1298 1305 1309 1313 1323 1330 1333 1340 1347 1351 1355 1359 1368 1375 1379 1386 1393 1400 1407 1411" y="558">ns3::Object::SetTypeId</text>
</g>
<g class="e"><path d="M1169.92,512.69C1204.76,520.81 1247.43,530.76 1282.49,538.93"/><polygon points="1283.6,534.4 1295.53,541.97 1281.48,543.49 1283.6,534.4"/></g>
<g class="n">
<rect class="b" x="1506" y="570" width="208" height="1" fill-opacity="0.333"/>
<rect class="b" x="1506" y="571" width="208" height="1"/>
<rect class="b" x="1506" y="596" width="208" height="1"/>
<rect class="b" x="1506" y="597" width="208" height="1" fill-opacity="0.333"/>
<rect class="b" x="1506" y="572" width="1" height="24"/>
<rect class="b" x="1507" y="572" width="1" height="24" fill-opacity="0.333"/>
<rect class="b" x="1712" y="572" width="1" height="24" fill-opacity="0.333"/>
<rect class="b" x="1713" y="572" width="1" height="24"/>
<text x="1517 1524 1531 1538 1542 1546 1556 1563 1566 1573 1580 1584 1593 1600 1607 1614 1618 1622 1632 1639 1646 1653 1657 1661 1668 1675 1679 1688 1695 1698" y="587">ns3::ObjectBase::ConstructSelf</text>
</g>
<g class="e"><path d="M1401.99,512.77C1419.92,517.65 1440.29,523.45 1458.67,529.33 1494.15,540.69 1533.72,555.19 1563.31,566.4"/><polygon points="1565.36,562.19 1576.15,571.31 1562.03,570.91 1565.36,562.19"/></g>
<g class="n">
<rect class="b" x="1797" y="450" width="165" height="1" fill-opacity="0.333"/>
<rect class="b" x="1796" y="450" width="1" height="1" fill-opacity="0.111"/>
<rect class="b" x="1797" y="451" width="165" height="1"/>
<rect class="b" x="1796" y="451" width="1" height="1" fill-opacity="0.333"/>
<rect class="b" x="1797" y="476" width="165" height="1"/>
<rect class="b" x="1796" y="476" width="1" height="1" fill-opacity="0.333"/>
<rect class="b" x="1797" y="477" width="165" height="1" fill-opacity="0.333"/>
<rect class="b" x="1796" y="477" width="1" height="1" fill-opacity="0.111"/>
<rect class="b" x="1796" y="452" width="1" height="24" fill-opacity="0.333"/>
<rect class="b" x="1797" y="452" width="1" height="24"/>
<rect class="b" x="1960" y="452" width="1" height="24" fill-opacity="0.333"/>
<rect class="b" x="1961" y="452" width="1" height="24"/>
<text x="1808 1815 1822 1829 1833 1837 1847 1854 1857 1864 1871 1875 1884 1891 1898 1905 1909 1913 1923 1930 1939 1946" y="467">ns3::ObjectBase::DoSet</text>
</g>
<g class="e"><path d="M1627.39,571.17C1653.75,550.73 1708.61,510.91 1761.33,489.33 1769.71,485.91 1778.63,482.91 1787.65,480.29"/><polygon points="1786.81,475.69 1800.91,476.75 1789.23,484.71 1786.81,475.69"/></g>
<g class="n">
<rect class="b" x="1774" y="502" width="210" height="1"/>
<rect class="b" x="1984" y="502" width="1" height="1" fill-opacity="0.667"/>
<rect class="b" x="1774" y="503" width="210" height="1" fill-opacity="0.333"/>
<rect class="b" x="1984" y="503" width="1" height="1" fill-opacity="0.222"/>
<rect class="b" x="1774" y="542" width="210" height="1"/>
<rect class="b" x="1984" y="542" width="1" height="1" fill-opacity="0.667"/>
<rect class="b" x="1774" y="543" width="210" height="1" fill-opacity="0.333"/>
<rect class="b" x="1984" y="543" width="1" height="1" fill-opacity="0.222"/>
<rect class="b" x="1774" y="504" width="1" height="38"/>
<rect class="b" x="1775" y="504" width="1" height="38" fill-opacity="0.333"/>
<rect class="b" x="1983" y="504" width="1" height="38" fill-opacity="0.667"/>
<rect class="b" x="1984" y="504" width="1" height="38" fill-opacity="0.667"/>
<text x="1785 1792 1799 1806 1810 1814 1821 1828 1835 1842 1849 1860 1867 1874 1881 1888 1895 1902 1913 1920 1927 1934 1941 1948" y="519">ns3::anonymous_namespace</text>
<text x="1785 1789 1796 1803 1806 1813 1820 1824 1828 1835 1842 1849 1856 1860 1864 1871 1878 1882 1886 1890 1899 1906 1913 1923 1926 1933 1937 1940 1947 1954 1961 1965" y="533">{object-base::cc}::EnvDictionary</text>
</g>
<g class="e"><path d="M1666.59,571.29C1698.65,563.92 1740.03,554.4 1777.67,545.75"/><polygon points="1776.76,541.16 1790.8,542.72 1778.85,550.27 1776.76,541.16"/></g>
<g class="n">
<rect class="b" x="1792" y="684" width="175" height="1" fill-opacity="0.333"/>
<rect class="b" x="1791" y="684" width="1" height="1" fill-opacity="0.222"/>
<rect class="b" x="1967" y="684" width="1" height="1" fill-opacity="0.111"/>
<rect class="b" x="1792" y="685" width="175" height="1"/>
<rect class="b" x="1791" y="685" width="1" height="1" fill-opacity="0.667"/>
<rect class="b" x="1967" y="685" width="1" height="1" fill-opacity="0.333"/>
<rect class="b" x="1792" y="724" width="175" height="1" fill-opacity="0.333"/>
<rect class="b" x="1791" y="724" width="1" height="1" fill-opacity="0.222"/>
<rect class="b" x="1967" y="724" width="1" height="1" fill-opacity="0.111"/>
<rect class="b" x="1792" y="725" width="175" height="1"/>
<rect class="b" x="1791" y="725" width="1" height="1" fill-opacity="0.667"/>
<rect class="b" x="1967" y="725" width="1" height="1" fill-opacity="0.333"/>
<rect class="b" x="1791" y="686" width="1" height="38" fill-opacity="0.667"/>
<rect class="b" x="1792" y="686" width="1" height="38" fill-opacity="0.667"/>
<rect class="b" x="1966" y="686" width="1" height="38"/>
<rect class="b" x="1967" y="686" width="1" height="38" fill-opacity="0.333"/>
<text x="1803 1810 1817 1824 1828 1832 1841 1845 1849 1853 1856 1863 1870 1874 1881 1891 1898 1905 1912 1916 1920 1927 1934 1938 1941 1948" y="701">ns3::AttributeConstruction</text>
<text x="1852 1859 1862 1869 1873 1877 1881 1889 1892 1899" y="716">List::Find</text>
</g>
<g class="e"><path d="M1687.31,596.71C1696.48,600 1705.4,604.13 1713.33,609.33 1742.68,628.57 1732.33,652.25 1761.33,672 1766.96,675.83 1773.01,679.23 1779.32,682.23"/><polygon points="1781.27,677.99 1791.68,687.55 1777.59,686.56 1781.27,677.99"/></g>
<g class="n">
<rect class="b" x="2061" y="626" width="169" height="1" fill-opacity="0.333"/>
<rect class="b" x="2060" y="626" width="1" height="1" fill-opacity="0.111"/>
<rect class="b" x="2061" y="627" width="169" height="1"/>
<rect class="b" x="2060" y="627" width="1" height="1" fill-opacity="0.333"/>
<rect class="b" x="2061" y="652" width="169" height="1"/>
<rect class="b" x="2060" y="652" width="1" height="1" fill-opacity="0.333"/>
<rect class="b" x="2061" y="653" width="169" height="1" fill-opacity="0.333"/>
<rect class="b" x="2060" y="653" width="1" height="1" fill-opacity="0.111"/>
<rect class="b" x="2060" y="628" width="1" height="24" fill-opacity="0.333"/>
<rect class="b" x="2061" y="628" width="1" height="24"/>
<rect class="b" x="2228" y="628" width="1" height="24" fill-opacity="0.333"/>
<rect class="b" x="2229" y="628" width="1" height="24"/>
<text x="2072 2079 2086 2093 2097 2101 2108 2115 2122 2129 2133 2140 2144 2148 2158 2165 2169 2178 2182 2186 2190 2193 2200 2207 2211" y="643">ns3::TypeId::GetAttribute</text>
</g>
<g class="e"><path d="M1713.37,585.41C1791.45,587.6 1901.63,593.08 1997.33,606.67 2025.95,610.73 2057.25,617.52 2083.55,623.91"/><polygon points="2084.99,619.45 2096.81,627.19 2082.75,628.51 2084.99,619.45"/></g>
<g class="n">
<rect class="b" x="1795" y="619" width="169" height="1" fill-opacity="0.667"/>
<rect class="b" x="1794" y="619" width="1" height="1" fill-opacity="0.222"/>
<rect class="b" x="1795" y="620" width="169" height="1" fill-opacity="0.667"/>
<rect class="b" x="1794" y="620" width="1" height="1" fill-opacity="0.222"/>
<rect class="b" x="1795" y="659" width="169" height="1" fill-opacity="0.667"/>
<rect class="b" x="1794" y="659" width="1" height="1" fill-opacity="0.222"/>
<rect class="b" x="1795" y="660" width="169" height="1" fill-opacity="0.667"/>
<rect class="b" x="1794" y="660" width="1" height="1" fill-opacity="0.222"/>
<rect class="b" x="1794" y="621" width="1" height="38" fill-opacity="0.333"/>
<rect class="b" x="1795" y="621" width="1" height="38"/>
<rect class="b" x="1962" y="621" width="1" height="38" fill-opacity="0.333"/>
<rect class="b" x="1963" y="621" width="1" height="38"/>
<text x="1806 1813 1820 1827 1831 1835 1842 1849 1856 1863 1867 1874 1878 1882 1892 1899 1903 1912 1916 1920 1924 1927 1934 1941 1945" y="636">ns3::TypeId::GetAttribute</text>
<text x="1851 1859 1866 1869 1872 1882 1889 1900" y="651">FullName</text>
</g>
<g class="e"><path d="M1671.84,596.71C1704.28,603.52 1745.01,612.07 1781.68,619.77"/><polygon points="1782.89,615.25 1794.99,622.57 1780.97,624.4 1782.89,615.25"/></g>
<g class="n">
<rect class="b" x="2068" y="801" width="155" height="1" fill-opacity="0.667"/>
<rect class="b" x="2067" y="801" width="1" height="1" fill-opacity="0.444"/>
<rect class="b" x="2223" y="801" width="1" height="1" fill-opacity="0.222"/>
<rect class="b" x="2068" y="802" width="155" height="1" fill-opacity="0.667"/>
<rect class="b" x="2067" y="802" width="1" height="1" fill-opacity="0.444"/>
<rect class="b" x="2223" y="802" width="1" height="1" fill-opacity="0.222"/>
<rect class="b" x="2068" y="826" width="155" height="1" fill-opacity="0.333"/>
<rect class="b" x="2067" y="826" width="1" height="1" fill-opacity="0.222"/>
<rect class="b" x="2223" y="826" width="1" height="1" fill-opacity="0.111"/>
<rect class="b" x="2068" y="827" width="155" height="1"/>
<rect class="b" x="2067" y="827" width="1" height="1" fill-opacity="0.667"/>
<rect class="b" x="2223" y="827" width="1" height="1" fill-opacity="0.333"/>
<rect class="b" x="2067" y="803" width="1" height="23" fill-opacity="0.667"/>
<rect class="b" x="2068" y="803" width="1" height="23" fill-opacity="0.667"/>
<rect class="b" x="2222" y="803" width="1" height="23"/>
<rect class="b" x="2223" y="803" width="1" height="23" fill-opacity="0.333"/>
<text x="2079 2086 2093 2100 2104 2108 2115 2122 2129 2136 2140 2147 2151 2155 2165 2172 2176 2186 2193 2204" y="818">ns3::TypeId::GetName</text>
</g>
<g class="e"><path d="M1695.47,596.8C1702.01,600.12 1708.11,604.24 1713.33,609.33 1770.61,665.09 1699.79,731.65 1761.33,782.67 1804.35,818.32 1955.08,821 2054.04,818.6"/><polygon points="2054.19,813.93 2067.64,818.24 2054.44,823.27 2054.19,813.93"/></g>
<g class="n">
<rect class="b" x="1790" y="852" width="179" height="1"/>
<rect class="b" x="1789" y="852" width="1" height="1" fill-opacity="0.667"/>
<rect class="b" x="1969" y="852" width="1" height="1" fill-opacity="0.333"/>
<rect class="b" x="1790" y="853" width="179" height="1" fill-opacity="0.333"/>
<rect class="b" x="1789" y="853" width="1" height="1" fill-opacity="0.222"/>
<rect class="b" x="1969" y="853" width="1" height="1" fill-opacity="0.111"/>
<rect class="b" x="1790" y="877" width="179" height="1" fill-opacity="0.667"/>
<rect class="b" x="1789" y="877" width="1" height="1" fill-opacity="0.444"/>
<rect class="b" x="1969" y="877" width="1" height="1" fill-opacity="0.222"/>
<rect class="b" x="1790" y="878" width="179" height="1" fill-opacity="0.667"/>
<rect class="b" x="1789" y="878" width="1" height="1" fill-opacity="0.444"/>
<rect class="b" x="1969" y="878" width="1" height="1" fill-opacity="0.222"/>
<rect class="b" x="1789" y="854" width="1" height="23" fill-opacity="0.667"/>
<rect class="b" x="1790" y="854" width="1" height="23" fill-opacity="0.667"/>
<rect class="b" x="1968" y="854" width="1" height="23"/>
<rect class="b" x="1969" y="854" width="1" height="23" fill-opacity="0.333"/>
<text x="1801 1808 1815 1822 1826 1830 1837 1844 1851 1858 1862 1869 1873 1877 1887 1894 1898 1907 1911 1915 1919 1922 1929 1936 1940 1947" y="869">ns3::TypeId::GetAttributeN</text>
</g>
<g class="e"><path d="M1696.28,596.73C1702.57,600.08 1708.39,604.23 1713.33,609.33 1784.16,682.48 1691.4,759.33 1761.33,833.33 1766.17,838.45 1771.73,842.77 1777.76,846.43"/><polygon points="1780.13,842.4 1789.85,852.65 1775.85,850.69 1780.13,842.4"/></g>
<g class="n">
<rect class="b" x="1780" y="903" width="199" height="1" fill-opacity="0.667"/>
<rect class="b" x="1779" y="903" width="1" height="1" fill-opacity="0.444"/>
<rect class="b" x="1979" y="903" width="1" height="1" fill-opacity="0.222"/>
<rect class="b" x="1780" y="904" width="199" height="1" fill-opacity="0.667"/>
<rect class="b" x="1779" y="904" width="1" height="1" fill-opacity="0.444"/>
<rect class="b" x="1979" y="904" width="1" height="1" fill-opacity="0.222"/>
<rect class="b" x="1780" y="943" width="199" height="1" fill-opacity="0.667"/>
<rect class="b" x="1779" y="943" width="1" height="1" fill-opacity="0.444"/>
<rect class="b" x="1979" y="943" width="1" height="1" fill-opacity="0.222"/>
<rect class="b" x="1780" y="944" width="199" height="1" fill-opacity="0.667"/>
<rect class="b" x="1779" y="944" width="1" height="1" fill-opacity="0.444"/>
<rect class="b" x="1979" y="944" width="1" height="1" fill-opacity="0.222"/>
<rect class="b" x="1779" y="905" width="1" height="38" fill-opacity="0.667"/>
<rect class="b" x="1780" y="905" width="1" height="38" fill-opacity="0.667"/>
<rect class="b" x="1978" y="905" width="1" height="38"/>
<rect class="b" x="1979" y="905" width="1" height="38" fill-opacity="0.333"/>
<text x="1791 1798 1805 1812 1816 1820 1830 1837 1840 1847 1854 1858 1867 1874 1881 1888 1892 1896 1906 1913 1917 1921 1928 1935 1939 1946 1953 1960" y="920">ns3::ObjectBase::GetInstance</text>
<text x="1859 1866 1873 1880 1887 1891" y="935">TypeId</text>
</g>
<g class="e"><path d="M1697,596.77C1703.05,600.12 1708.61,604.25 1713.33,609.33 1799.63,702.31 1676.68,796.21 1761.33,890.67 1763.67,893.28 1766.2,895.68 1768.88,897.91"/><polygon points="1771.65,894.16 1779.91,905.61 1766.31,901.8 1771.65,894.16"/></g>
<g class="n">
<rect class="b" x="2316" y="829" width="158" height="1" fill-opacity="0.667"/>
<rect class="b" x="2315" y="829" width="1" height="1" fill-opacity="0.444"/>
<rect class="b" x="2316" y="830" width="158" height="1" fill-opacity="0.667"/>
<rect class="b" x="2315" y="830" width="1" height="1" fill-opacity="0.444"/>
<rect class="b" x="2316" y="854" width="158" height="1" fill-opacity="0.333"/>
<rect class="b" x="2315" y="854" width="1" height="1" fill-opacity="0.222"/>
<rect class="b" x="2316" y="855" width="158" height="1"/>
<rect class="b" x="2315" y="855" width="1" height="1" fill-opacity="0.667"/>
<rect class="b" x="2315" y="831" width="1" height="23" fill-opacity="0.667"/>
<rect class="b" x="2316" y="831" width="1" height="23" fill-opacity="0.667"/>
<rect class="b" x="2472" y="831" width="1" height="23" fill-opacity="0.333"/>
<rect class="b" x="2473" y="831" width="1" height="23"/>
<text x="2327 2334 2341 2348 2352 2356 2363 2370 2377 2384 2388 2395 2399 2403 2413 2420 2424 2433 2440 2444 2451 2458" y="846">ns3::TypeId::GetParent</text>
</g>
<g class="e"><path d="M1694,596.83C1701.03,600.13 1707.61,604.24 1713.33,609.33 1758.69,649.75 1713.32,700.11 1761.33,737.33 1846.83,803.61 2139.92,765.04 2245.33,789.33 2282.27,797.84 2322.64,812.8 2351.87,824.71"/><polygon points="2353.95,820.51 2364.47,829.93 2350.36,829.13 2353.95,820.51"/></g>
<g class="n">
<rect class="b" x="1786" y="333" width="187" height="1" fill-opacity="0.667"/>
<rect class="b" x="1785" y="333" width="1" height="1" fill-opacity="0.444"/>
<rect class="b" x="1973" y="333" width="1" height="1" fill-opacity="0.222"/>
<rect class="b" x="1786" y="334" width="187" height="1" fill-opacity="0.667"/>
<rect class="b" x="1785" y="334" width="1" height="1" fill-opacity="0.444"/>
<rect class="b" x="1973" y="334" width="1" height="1" fill-opacity="0.222"/>
<rect class="b" x="1786" y="358" width="187" height="1" fill-opacity="0.333"/>
<rect class="b" x="1785" y="358" width="1" height="1" fill-opacity="0.222"/>
<rect class="b" x="1973" y="358" width="1" height="1" fill-opacity="0.111"/>
<rect class="b" x="1786" y="359" width="187" height="1"/>
<rect class="b" x="1785" y="359" width="1" height="1" fill-opacity="0.667"/>
<rect class="b" x="1973" y="359" width="1" height="1" fill-opacity="0.333"/>
<rect class="b" x="1785" y="335" width="1" height="23" fill-opacity="0.667"/>
<rect class="b" x="1786" y="335" width="1" height="23" fill-opacity="0.667"/>
<rect class="b" x="1972" y="335" width="1" height="23"/>
<rect class="b" x="1973" y="335" width="1" height="23" fill-opacity="0.333"/>
<text x="1797 1804 1811 1818 1822 1826 1836 1843 1846 1853 1860 1864 1873 1880 1887 1894 1898 1902 1912 1919 1923 1930 1937 1944 1951 1955" y="350">ns3::ObjectBase::GetTypeId</text>
</g>
<g class="e"><path d="M1616.47,570.99C1632.01,533.43 1682.36,424.24 1761.33,372 1765.47,369.27 1769.84,366.83 1774.39,364.64"/><polygon points="1772.64,360.31 1786.73,359.44 1776.25,368.92 1772.64,360.31"/></g>
<g class="n">
<rect class="b" x="1761" y="384" width="237" height="1" fill-opacity="0.333"/>
<rect class="b" x="1760" y="384" width="1" height="1" fill-opacity="0.111"/>
<rect class="b" x="1761" y="385" width="237" height="1"/>
<rect class="b" x="1760" y="385" width="1" height="1" fill-opacity="0.333"/>
<rect class="b" x="1761" y="424" width="237" height="1" fill-opacity="0.333"/>
<rect class="b" x="1760" y="424" width="1" height="1" fill-opacity="0.111"/>
<rect class="b" x="1761" y="425" width="237" height="1"/>
<rect class="b" x="1760" y="425" width="1" height="1" fill-opacity="0.333"/>
<rect class="b" x="1760" y="386" width="1" height="38" fill-opacity="0.333"/>
<rect class="b" x="1761" y="386" width="1" height="38"/>
<rect class="b" x="1996" y="386" width="1" height="38" fill-opacity="0.333"/>
<rect class="b" x="1997" y="386" width="1" height="38"/>
<text x="1772 1779 1786 1793 1797 1801 1811 1818 1821 1828 1835 1839 1848 1855 1862 1869 1873 1877 1887 1894 1898 1901 1905 1912 1922 1929 1936 1943 1947 1951 1958 1965 1969 1972 1979" y="401">ns3::ObjectBase::NotifyConstruction</text>
<text x="1847 1857 1864 1875 1882 1885 1892 1896 1903" y="416">Completed</text>
</g>
<g class="e"><path d="M1621.04,570.96C1642.87,542.56 1698.85,474.77 1761.33,438.67 1766.51,435.68 1771.95,432.95 1777.56,430.45"/><polygon points="1775.95,426.07 1790.05,425.35 1779.48,434.71 1775.95,426.07"/></g>
<g class="e"><path d="M2229.6,642.71C2300.61,645.81 2405.43,652.27 2496,665.33 2514.95,668.07 2535.05,671.81 2554.24,675.8"/><polygon points="2555.29,671.25 2567.36,678.6 2553.35,680.39 2555.29,671.25"/></g>
<g class="n">
<rect class="b" x="2293" y="677" width="203" height="1" fill-opacity="0.667"/>
<rect class="b" x="2292" y="677" width="1" height="1" fill-opacity="0.222"/>
<rect class="b" x="2496" y="677" width="1" height="1" fill-opacity="0.444"/>
<rect class="b" x="2293" y="678" width="203" height="1" fill-opacity="0.667"/>
<rect class="b" x="2292" y="678" width="1" height="1" fill-opacity="0.222"/>
<rect class="b" x="2496" y="678" width="1" height="1" fill-opacity="0.444"/>
<rect class="b" x="2293" y="702" width="203" height="1" fill-opacity="0.333"/>
<rect class="b" x="2292" y="702" width="1" height="1" fill-opacity="0.111"/>
<rect class="b" x="2496" y="702" width="1" height="1" fill-opacity="0.222"/>
<rect class="b" x="2293" y="703" width="203" height="1"/>
<rect class="b" x="2292" y="703" width="1" height="1" fill-opacity="0.333"/>
<rect class="b" x="2496" y="703" width="1" height="1" fill-opacity="0.667"/>
<rect class="b" x="2292" y="679" width="1" height="23" fill-opacity="0.333"/>
<rect class="b" x="2293" y="679" width="1" height="23"/>
<rect class="b" x="2495" y="679" width="1" height="23" fill-opacity="0.667"/>
<rect class="b" x="2496" y="679" width="1" height="23" fill-opacity="0.667"/>
<text x="2304 2311 2318 2325 2329 2333 2337 2340 2347 2358 2365 2372 2379 2386 2393 2397 2401 2405 2415 2422 2426 2435 2439 2443 2447 2450 2457 2464 2468 2475" y="694">ns3::IidManager::GetAttributeN</text>
</g>
<g class="e"><path d="M2208.91,652.79C2242.2,659.63 2283.41,668.09 2318.44,675.28"/><polygon points="2319.41,670.72 2331.53,677.97 2317.53,679.87 2319.41,670.72"/></g>
<g class="e"><path d="M1963.63,640C1990.19,640 2019.84,640 2047.31,640"/><polygon points="2047.67,635.33 2061,640 2047.67,644.67 2047.67,635.33"/></g>
<g class="e"><path d="M1963.72,657.17C1975.4,661.17 1986.95,666.05 1997.33,672 2051.75,703.12 2100.83,759.12 2126.08,790.92"/><polygon points="2130.05,788.43 2134.55,801.81 2122.68,794.16 2130.05,788.43"/></g>
<g class="e"><path d="M2188.83,801.96C2218.03,793.37 2257.88,782.04 2293.33,773.33 2377.6,752.65 2473.96,732.65 2545.16,718.57"/><polygon points="2544.61,713.93 2558.6,715.93 2546.41,723.08 2544.61,713.93"/></g>
<g class="n">
<rect class="b" x="2305" y="880" width="179" height="1"/>
<rect class="b" x="2304" y="880" width="1" height="1" fill-opacity="0.333"/>
<rect class="b" x="2484" y="880" width="1" height="1" fill-opacity="0.667"/>
<rect class="b" x="2305" y="881" width="179" height="1" fill-opacity="0.333"/>
<rect class="b" x="2304" y="881" width="1" height="1" fill-opacity="0.111"/>
<rect class="b" x="2484" y="881" width="1" height="1" fill-opacity="0.222"/>
<rect class="b" x="2305" y="905" width="179" height="1" fill-opacity="0.667"/>
<rect class="b" x="2304" y="905" width="1" height="1" fill-opacity="0.222"/>
<rect class="b" x="2484" y="905" width="1" height="1" fill-opacity="0.444"/>
<rect class="b" x="2305" y="906" width="179" height="1" fill-opacity="0.667"/>
<rect class="b" x="2304" y="906" width="1" height="1" fill-opacity="0.222"/>
<rect class="b" x="2484" y="906" width="1" height="1" fill-opacity="0.444"/>
<rect class="b" x="2304" y="882" width="1" height="23" fill-opacity="0.333"/>
<rect class="b" x="2305" y="882" width="1" height="23"/>
<rect class="b" x="2483" y="882" width="1" height="23" fill-opacity="0.667"/>
<rect class="b" x="2484" y="882" width="1" height="23" fill-opacity="0.667"/>
<text x="2316 2323 2330 2337 2341 2345 2349 2352 2359 2370 2377 2384 2391 2398 2405 2409 2413 2417 2427 2434 2438 2448 2455 2466" y="897">ns3::IidManager::GetName</text>
</g>
<g class="e"><path d="M2178.97,827.48C2208.48,838.92 2253.45,855.73 2293.33,868 2303.8,871.21 2314.97,874.35 2325.91,877.24"/><polygon points="2327.35,872.79 2339.08,880.65 2325,881.83 2327.35,872.79"/></g>
<g class="n">
<rect class="b" x="2805" y="626" width="231" height="1" fill-opacity="0.333"/>
<rect class="b" x="2804" y="626" width="1" height="1" fill-opacity="0.111"/>
<rect class="b" x="3036" y="626" width="1" height="1" fill-opacity="0.222"/>
<rect class="b" x="2805" y="627" width="231" height="1"/>
<rect class="b" x="2804" y="627" width="1" height="1" fill-opacity="0.333"/>
<rect class="b" x="3036" y="627" width="1" height="1" fill-opacity="0.667"/>
<rect class="b" x="2805" y="652" width="231" height="1"/>
<rect class="b" x="2804" y="652" width="1" height="1" fill-opacity="0.333"/>
<rect class="b" x="3036" y="652" width="1" height="1" fill-opacity="0.667"/>
<rect class="b" x="2805" y="653" width="231" height="1" fill-opacity="0.333"/>
<rect class="b" x="2804" y="653" width="1" height="1" fill-opacity="0.111"/>
<rect class="b" x="3036" y="653" width="1" height="1" fill-opacity="0.222"/>
<rect class="b" x="2804" y="628" width="1" height="24" fill-opacity="0.333"/>
<rect class="b" x="2805" y="628" width="1" height="24"/>
<rect class="b" x="3035" y="628" width="1" height="24" fill-opacity="0.667"/>
<rect class="b" x="3036" y="628" width="1" height="24" fill-opacity="0.667"/>
<text x="2816 2823 2830 2837 2841 2845 2849 2852 2859 2870 2877 2884 2891 2898 2905 2909 2913 2917 2924 2931 2938 2945 2952 2959 2963 2970 2974 2981 2985 2996 3003 3007 3010 3017" y="643">ns3::IidManager::LookupInformation</text>
</g>
<g class="e"><path d="M2472.59,906.01C2549.64,914.81 2669.32,917.4 2757.33,868 2839.41,821.92 2890.08,714.88 2909.84,665.63"/><polygon points="2905.63,663.6 2914.79,652.85 2914.33,666.97 2905.63,663.6"/></g>
<g class="e"><path d="M2450.23,829.97C2465.6,825.16 2481.97,818.81 2496,810.67 2521.03,796.15 2521.09,784.36 2544,766.67 2562.83,752.12 2584.79,737.6 2603.76,725.73"/><polygon points="2601.35,721.75 2615.15,718.71 2606.24,729.69 2601.35,721.75"/></g>
<g class="n">
<rect class="b" x="2559" y="829" width="183" height="1" fill-opacity="0.667"/>
<rect class="b" x="2558" y="829" width="1" height="1" fill-opacity="0.222"/>
<rect class="b" x="2742" y="829" width="1" height="1" fill-opacity="0.444"/>
<rect class="b" x="2559" y="830" width="183" height="1" fill-opacity="0.667"/>
<rect class="b" x="2558" y="830" width="1" height="1" fill-opacity="0.222"/>
<rect class="b" x="2742" y="830" width="1" height="1" fill-opacity="0.444"/>
<rect class="b" x="2559" y="854" width="183" height="1" fill-opacity="0.333"/>
<rect class="b" x="2558" y="854" width="1" height="1" fill-opacity="0.111"/>
<rect class="b" x="2742" y="854" width="1" height="1" fill-opacity="0.222"/>
<rect class="b" x="2559" y="855" width="183" height="1"/>
<rect class="b" x="2558" y="855" width="1" height="1" fill-opacity="0.333"/>
<rect class="b" x="2742" y="855" width="1" height="1" fill-opacity="0.667"/>
<rect class="b" x="2558" y="831" width="1" height="23" fill-opacity="0.333"/>
<rect class="b" x="2559" y="831" width="1" height="23"/>
<rect class="b" x="2741" y="831" width="1" height="23" fill-opacity="0.667"/>
<rect class="b" x="2742" y="831" width="1" height="23" fill-opacity="0.667"/>
<text x="2570 2577 2584 2591 2595 2599 2603 2606 2613 2624 2631 2638 2645 2652 2659 2663 2667 2671 2681 2688 2692 2701 2708 2712 2719 2726" y="846">ns3::IidManager::GetParent</text>
</g>
<g class="e"><path d="M2473.39,842.67C2496.12,842.67 2521.36,842.67 2545.45,842.67"/><polygon points="2545.76,838 2559.09,842.67 2545.76,847.33 2545.76,838"/></g>
<g class="n">
<rect class="b" x="2582" y="778" width="138" height="1" fill-opacity="0.333"/>
<rect class="b" x="2581" y="778" width="1" height="1" fill-opacity="0.222"/>
<rect class="b" x="2582" y="779" width="138" height="1"/>
<rect class="b" x="2581" y="779" width="1" height="1" fill-opacity="0.667"/>
<rect class="b" x="2582" y="804" width="138" height="1"/>
<rect class="b" x="2581" y="804" width="1" height="1" fill-opacity="0.667"/>
<rect class="b" x="2582" y="805" width="138" height="1" fill-opacity="0.333"/>
<rect class="b" x="2581" y="805" width="1" height="1" fill-opacity="0.222"/>
<rect class="b" x="2581" y="780" width="1" height="24" fill-opacity="0.667"/>
<rect class="b" x="2582" y="780" width="1" height="24" fill-opacity="0.667"/>
<rect class="b" x="2718" y="780" width="1" height="24" fill-opacity="0.333"/>
<rect class="b" x="2719" y="780" width="1" height="24"/>
<text x="2593 2600 2607 2614 2618 2622 2629 2636 2643 2650 2654 2661 2665 2669 2676 2683 2690 2697 2701" y="795">ns3::TypeId::TypeId</text>
</g>
<g class="e"><path d="M2459.93,829.88C2494.11,823.04 2536.45,814.57 2572.43,807.39"/><polygon points="2571.88,802.73 2585.87,804.69 2573.71,811.88 2571.88,802.73"/></g>
<g class="e"><path d="M2728.92,829.88C2738.84,826.61 2748.59,822.49 2757.33,817.33 2823.47,778.29 2878.29,703.64 2903.85,664.83"/><polygon points="2900.23,661.83 2911.37,653.13 2908.08,666.88 2900.23,661.83"/></g>
<g class="n">
<rect class="b" x="2045" y="525" width="201" height="1" fill-opacity="0.667"/>
<rect class="b" x="2044" y="525" width="1" height="1" fill-opacity="0.222"/>
<rect class="b" x="2045" y="526" width="201" height="1" fill-opacity="0.667"/>
<rect class="b" x="2044" y="526" width="1" height="1" fill-opacity="0.222"/>
<rect class="b" x="2045" y="550" width="201" height="1" fill-opacity="0.333"/>
<rect class="b" x="2044" y="550" width="1" height="1" fill-opacity="0.111"/>
<rect class="b" x="2045" y="551" width="201" height="1"/>
<rect class="b" x="2044" y="551" width="1" height="1" fill-opacity="0.333"/>
<rect class="b" x="2044" y="527" width="1" height="23" fill-opacity="0.333"/>
<rect class="b" x="2045" y="527" width="1" height="23"/>
<rect class="b" x="2244" y="527" width="1" height="23" fill-opacity="0.333"/>
<rect class="b" x="2245" y="527" width="1" height="23"/>
<text x="2056 2063 2070 2077 2081 2085 2095 2102 2105 2112 2119 2123 2132 2139 2146 2153 2157 2161 2171 2178 2182 2192 2199 2202 2209 2216 2220 2224 2227" y="542">ns3::ObjectBase::GetObjectIid</text>
</g>
<g class="e"><path d="M1968.97,359.48C1978.91,362.75 1988.57,366.85 1997.33,372 2057.97,407.65 2106.68,477.16 2129.67,514.15"/><polygon points="2133.79,511.95 2136.69,525.76 2125.8,516.77 2133.79,511.95"/></g>
<g class="n">
<rect class="b" x="2300" y="525" width="189" height="1" fill-opacity="0.667"/>
<rect class="b" x="2489" y="525" width="1" height="1" fill-opacity="0.222"/>
<rect class="b" x="2300" y="526" width="189" height="1" fill-opacity="0.667"/>
<rect class="b" x="2489" y="526" width="1" height="1" fill-opacity="0.222"/>
<rect class="b" x="2300" y="550" width="189" height="1" fill-opacity="0.333"/>
<rect class="b" x="2489" y="550" width="1" height="1" fill-opacity="0.111"/>
<rect class="b" x="2300" y="551" width="189" height="1"/>
<rect class="b" x="2489" y="551" width="1" height="1" fill-opacity="0.333"/>
<rect class="b" x="2300" y="527" width="1" height="23"/>
<rect class="b" x="2301" y="527" width="1" height="23" fill-opacity="0.333"/>
<rect class="b" x="2488" y="527" width="1" height="23"/>
<rect class="b" x="2489" y="527" width="1" height="23" fill-opacity="0.333"/>
<text x="2311 2318 2325 2332 2336 2340 2347 2354 2361 2368 2372 2379 2383 2387 2396 2403 2407 2417 2421 2428 2435 2442 2452 2459 2470" y="542">ns3::TypeId::SetGroupName</text>
</g>
<g class="e"><path d="M2245.57,538.67C2259.15,538.67 2273.13,538.67 2286.83,538.67"/><polygon points="2287.07,534 2300.4,538.67 2287.07,543.33 2287.07,534"/></g>
<g class="n">
<rect class="b" x="2316" y="576" width="157" height="1"/>
<rect class="b" x="2473" y="576" width="1" height="1" fill-opacity="0.333"/>
<rect class="b" x="2316" y="577" width="157" height="1" fill-opacity="0.333"/>
<rect class="b" x="2473" y="577" width="1" height="1" fill-opacity="0.111"/>
<rect class="b" x="2316" y="601" width="157" height="1" fill-opacity="0.667"/>
<rect class="b" x="2473" y="601" width="1" height="1" fill-opacity="0.222"/>
<rect class="b" x="2316" y="602" width="157" height="1" fill-opacity="0.667"/>
<rect class="b" x="2473" y="602" width="1" height="1" fill-opacity="0.222"/>
<rect class="b" x="2316" y="578" width="1" height="23"/>
<rect class="b" x="2317" y="578" width="1" height="23" fill-opacity="0.333"/>
<rect class="b" x="2472" y="578" width="1" height="23"/>
<rect class="b" x="2473" y="578" width="1" height="23" fill-opacity="0.333"/>
<text x="2327 2334 2341 2348 2352 2356 2363 2370 2377 2384 2388 2395 2399 2403 2412 2419 2423 2432 2439 2443 2450 2457" y="593">ns3::TypeId::SetParent</text>
</g>
<g class="e"><path d="M2208.91,551.45C2242.2,558.29 2283.41,566.76 2318.44,573.95"/><polygon points="2319.41,569.39 2331.53,576.64 2317.53,578.53 2319.41,569.39"/></g>
<g class="e"><path d="M2475.13,551.49C2482.65,554.77 2489.77,558.88 2496,564 2534.49,595.65 2506.45,632.57 2544,665.33 2546.59,667.6 2549.33,669.71 2552.2,671.67"/><polygon points="2554.71,667.73 2563.77,678.56 2549.93,675.75 2554.71,667.73"/></g>
<g class="n">
<rect class="b" x="2544" y="525" width="214" height="1" fill-opacity="0.667"/>
<rect class="b" x="2543" y="525" width="1" height="1" fill-opacity="0.444"/>
<rect class="b" x="2544" y="526" width="214" height="1" fill-opacity="0.667"/>
<rect class="b" x="2543" y="526" width="1" height="1" fill-opacity="0.444"/>
<rect class="b" x="2544" y="550" width="214" height="1" fill-opacity="0.333"/>
<rect class="b" x="2543" y="550" width="1" height="1" fill-opacity="0.222"/>
<rect class="b" x="2544" y="551" width="214" height="1"/>
<rect class="b" x="2543" y="551" width="1" height="1" fill-opacity="0.667"/>
<rect class="b" x="2543" y="527" width="1" height="23" fill-opacity="0.667"/>
<rect class="b" x="2544" y="527" width="1" height="23" fill-opacity="0.667"/>
<rect class="b" x="2756" y="527" width="1" height="23" fill-opacity="0.333"/>
<rect class="b" x="2757" y="527" width="1" height="23"/>
<text x="2555 2562 2569 2576 2580 2584 2588 2591 2598 2609 2616 2623 2630 2637 2644 2648 2652 2656 2665 2672 2676 2686 2690 2697 2704 2711 2721 2728 2739" y="542">ns3::IidManager::SetGroupName</text>
</g>
<g class="e"><path d="M2488.89,538.67C2502.24,538.67 2516.12,538.67 2529.89,538.67"/><polygon points="2530.27,534 2543.6,538.67 2530.27,543.33 2530.27,534"/></g>
<g class="e"><path d="M2713.88,551.33C2728.31,554.89 2743.49,559.15 2757.33,564 2802.36,579.8 2851.68,604 2883.93,620.83"/><polygon points="2886.2,616.76 2895.81,627.11 2881.85,625.01 2886.2,616.76"/></g>
<g class="e"><path d="M2450.23,602.03C2465.6,606.84 2481.97,613.19 2496,621.33 2521.03,635.85 2518.95,650.85 2544,665.33 2548.95,668.2 2554.17,670.84 2559.55,673.29"/><polygon points="2561.79,669.16 2572.28,678.63 2558.17,677.77 2561.79,669.16"/></g>
<g class="n">
<rect class="b" x="2581" y="576" width="139" height="1"/>
<rect class="b" x="2580" y="576" width="1" height="1" fill-opacity="0.333"/>
<rect class="b" x="2720" y="576" width="1" height="1" fill-opacity="0.667"/>
<rect class="b" x="2581" y="577" width="139" height="1" fill-opacity="0.333"/>
<rect class="b" x="2580" y="577" width="1" height="1" fill-opacity="0.111"/>
<rect class="b" x="2720" y="577" width="1" height="1" fill-opacity="0.222"/>
<rect class="b" x="2581" y="601" width="139" height="1" fill-opacity="0.667"/>
<rect class="b" x="2580" y="601" width="1" height="1" fill-opacity="0.222"/>
<rect class="b" x="2720" y="601" width="1" height="1" fill-opacity="0.444"/>
<rect class="b" x="2581" y="602" width="139" height="1" fill-opacity="0.667"/>
<rect class="b" x="2580" y="602" width="1" height="1" fill-opacity="0.222"/>
<rect class="b" x="2720" y="602" width="1" height="1" fill-opacity="0.444"/>
<rect class="b" x="2580" y="578" width="1" height="23" fill-opacity="0.333"/>
<rect class="b" x="2581" y="578" width="1" height="23"/>
<rect class="b" x="2719" y="578" width="1" height="23" fill-opacity="0.667"/>
<rect class="b" x="2720" y="578" width="1" height="23" fill-opacity="0.667"/>
<text x="2592 2599 2606 2613 2617 2621 2628 2635 2642 2649 2653 2660 2664 2668 2678 2685 2689 2699 2702" y="593">ns3::TypeId::GetUid</text>
</g>
<g class="e"><path d="M2472.69,589.33C2502.63,589.33 2536.99,589.33 2567.4,589.33"/><polygon points="2567.73,584.67 2581.07,589.33 2567.73,594 2567.73,584.67"/></g>
<g class="n">
<rect class="b" x="2560" y="626" width="182" height="1" fill-opacity="0.333"/>
<rect class="b" x="2559" y="626" width="1" height="1" fill-opacity="0.222"/>
<rect class="b" x="2560" y="627" width="182" height="1"/>
<rect class="b" x="2559" y="627" width="1" height="1" fill-opacity="0.667"/>
<rect class="b" x="2560" y="652" width="182" height="1"/>
<rect class="b" x="2559" y="652" width="1" height="1" fill-opacity="0.667"/>
<rect class="b" x="2560" y="653" width="182" height="1" fill-opacity="0.333"/>
<rect class="b" x="2559" y="653" width="1" height="1" fill-opacity="0.222"/>
<rect class="b" x="2559" y="628" width="1" height="24" fill-opacity="0.667"/>
<rect class="b" x="2560" y="628" width="1" height="24" fill-opacity="0.667"/>
<rect class="b" x="2740" y="628" width="1" height="24" fill-opacity="0.333"/>
<rect class="b" x="2741" y="628" width="1" height="24"/>
<text x="2571 2578 2585 2592 2596 2600 2604 2607 2614 2625 2632 2639 2646 2653 2660 2664 2668 2672 2681 2688 2692 2701 2708 2712 2719 2726" y="643">ns3::IidManager::SetParent</text>
</g>
<g class="e"><path d="M2459.93,602.12C2494.11,608.96 2536.45,617.43 2572.43,624.61"/><polygon points="2573.71,620.12 2585.87,627.31 2571.88,629.27 2573.71,620.12"/></g>
<g class="e"><path d="M2741.39,640C2757.56,640 2774.71,640 2791.72,640"/><polygon points="2791.97,635.33 2805.31,640 2791.97,644.67 2791.97,635.33"/></g>
<g class="e"><path d="M2477.35,500.69C2484.16,504.01 2490.53,508.17 2496,513.33 2547.52,561.96 2493.92,615.23 2544,665.33 2545.93,667.27 2547.97,669.09 2550.11,670.8"/><polygon points="2553.08,667.17 2561.48,678.53 2547.83,674.89 2553.08,667.17"/></g>
<g class="n">
<rect class="b" x="2544" y="474" width="213" height="1" fill-opacity="0.333"/>
<rect class="b" x="2757" y="474" width="1" height="1" fill-opacity="0.111"/>
<rect class="b" x="2544" y="475" width="213" height="1"/>
<rect class="b" x="2757" y="475" width="1" height="1" fill-opacity="0.333"/>
<rect class="b" x="2544" y="500" width="213" height="1"/>
<rect class="b" x="2757" y="500" width="1" height="1" fill-opacity="0.333"/>
<rect class="b" x="2544" y="501" width="213" height="1" fill-opacity="0.333"/>
<rect class="b" x="2757" y="501" width="1" height="1" fill-opacity="0.111"/>
<rect class="b" x="2544" y="476" width="1" height="24"/>
<rect class="b" x="2545" y="476" width="1" height="24" fill-opacity="0.333"/>
<rect class="b" x="2756" y="476" width="1" height="24"/>
<rect class="b" x="2757" y="476" width="1" height="24" fill-opacity="0.333"/>
<text x="2555 2562 2569 2576 2580 2584 2588 2591 2598 2609 2616 2623 2630 2637 2644 2648 2652 2656 2666 2673 2677 2687 2694 2701 2708 2712 2716 2723 2730 2734 2741" y="491">ns3::IidManager::GetConstructor</text>
</g>
<g class="e"><path d="M2488.17,488C2502,488 2516.43,488 2530.72,488"/><polygon points="2531.01,483.33 2544.35,488 2531.01,492.67 2531.01,483.33"/></g>
<g class="e"><path d="M2723.15,500.71C2734.87,504.03 2746.67,508.19 2757.33,513.33 2813.17,540.29 2867.8,588.97 2897.17,617.49"/><polygon points="2900.6,614.32 2906.8,627.01 2894.04,620.96 2900.6,614.32"/></g>
<g class="n">
<rect class="b" x="1542" y="621" width="136" height="1" fill-opacity="0.667"/>
<rect class="b" x="1542" y="622" width="136" height="1" fill-opacity="0.667"/>
<rect class="b" x="1542" y="646" width="136" height="1" fill-opacity="0.333"/>
<rect class="b" x="1542" y="647" width="136" height="1"/>
<rect class="b" x="1542" y="623" width="1" height="23"/>
<rect class="b" x="1543" y="623" width="1" height="23" fill-opacity="0.333"/>
<rect class="b" x="1676" y="623" width="1" height="23" fill-opacity="0.333"/>
<rect class="b" x="1677" y="623" width="1" height="23"/>
<text x="1553 1560 1567 1574 1578 1582 1592 1599 1602 1609 1616 1620 1624 1628 1638 1645 1652 1659" y="638">ns3::Object::Check</text>
</g>
<g class="e"><path d="M1396.88,567.35C1416.05,573.16 1438.64,580.43 1458.67,588 1480.51,596.25 1484.59,601.75 1506.67,609.33 1516.27,612.63 1526.51,615.69 1536.67,618.47"/><polygon points="1538.19,614.04 1549.89,621.93 1535.81,623.07 1538.19,614.04"/></g>
<g class="n">
<rect class="b" x="1776" y="968" width="207" height="1" fill-opacity="0.333"/>
<rect class="b" x="1775" y="968" width="1" height="1" fill-opacity="0.222"/>
<rect class="b" x="1983" y="968" width="1" height="1" fill-opacity="0.111"/>
<rect class="b" x="1776" y="969" width="207" height="1"/>
<rect class="b" x="1775" y="969" width="1" height="1" fill-opacity="0.667"/>
<rect class="b" x="1983" y="969" width="1" height="1" fill-opacity="0.333"/>
<rect class="b" x="1776" y="1038" width="207" height="1"/>
<rect class="b" x="1775" y="1038" width="1" height="1" fill-opacity="0.667"/>
<rect class="b" x="1983" y="1038" width="1" height="1" fill-opacity="0.333"/>
<rect class="b" x="1776" y="1039" width="207" height="1" fill-opacity="0.333"/>
<rect class="b" x="1775" y="1039" width="1" height="1" fill-opacity="0.222"/>
<rect class="b" x="1983" y="1039" width="1" height="1" fill-opacity="0.111"/>
<rect class="b" x="1775" y="970" width="1" height="68" fill-opacity="0.667"/>
<rect class="b" x="1776" y="970" width="1" height="68" fill-opacity="0.667"/>
<rect class="b" x="1982" y="970" width="1" height="68"/>
<rect class="b" x="1983" y="970" width="1" height="68" fill-opacity="0.333"/>
<text x="1787 1794 1801 1808 1812 1816 1825 1828 1839 1846 1849 1856 1866 1873 1877 1887 1894 1901 1908" y="985">ns3::SimpleRefCount</text>
<text x="1787 1795 1799 1809 1816 1819 1826 1833 1837 1841 1845 1855 1862 1865 1872 1879 1883 1892 1899 1906 1913" y="1000">&lt; Object, ObjectBase,</text>
<text xml:space="preserve" x="1787 1791 1801 1808 1811 1818 1825 1829 1839 1846 1849 1856 1860 1867 1871 1875 1883 1887 1891 1901 1908 1912 1922 1929 1933 1940 1944 1951 1958 1965" y="1015"> ObjectDeleter &gt;::GetReference</text>
<text x="1861 1871 1878 1885 1892" y="1029">Count</text>
</g>
<g class="e"><path d="M1677.41,643C1690.96,647.6 1703.93,654.64 1713.33,665.33 1799.79,763.67 1679.81,853.53 1761.33,956 1762.79,957.83 1764.32,959.59 1765.93,961.28"/><polygon points="1769.09,957.85 1775.85,970.25 1762.83,964.77 1769.09,957.85"/></g>
<g class="n">
<rect class="b" x="1260" y="172" width="182" height="1"/>
<rect class="b" x="1442" y="172" width="1" height="1" fill-opacity="0.667"/>
<rect class="b" x="1260" y="173" width="182" height="1" fill-opacity="0.333"/>
<rect class="b" x="1442" y="173" width="1" height="1" fill-opacity="0.222"/>
<rect class="b" x="1260" y="197" width="182" height="1" fill-opacity="0.667"/>
<rect class="b" x="1442" y="197" width="1" height="1" fill-opacity="0.444"/>
<rect class="b" x="1260" y="198" width="182" height="1" fill-opacity="0.667"/>
<rect class="b" x="1442" y="198" width="1" height="1" fill-opacity="0.444"/>
<rect class="b" x="1260" y="174" width="1" height="23"/>
<rect class="b" x="1261" y="174" width="1" height="23" fill-opacity="0.333"/>
<rect class="b" x="1441" y="174" width="1" height="23" fill-opacity="0.667"/>
<rect class="b" x="1442" y="174" width="1" height="23" fill-opacity="0.667"/>
<text x="1271 1278 1285 1292 1296 1300 1309 1312 1323 1330 1333 1340 1344 1351 1355 1359 1363 1373 1380 1384 1394 1401 1408 1412 1419 1426" y="189">ns3::Simulator::GetContext</text>
</g>
<g class="e"><path d="M1166.08,223.21C1199.12,216.41 1240.03,207.99 1274.85,200.81"/><polygon points="1274.37,196.15 1288.37,198.03 1276.25,205.29 1274.37,196.15"/></g>
<g class="e"><path d="M1276.64,198.12C1265.29,201.68 1254.03,206.23 1244,212 1217.49,227.28 1222.36,245.81 1196,261.33 1121.92,304.95 1067.96,249.13 1009.33,312 934.35,392.4 1033.69,471.89 961.33,554.67 956.39,560.32 950.19,564.79 943.47,568.29"/><polygon points="945.03,572.71 930.93,573.65 941.36,564.12 945.03,572.71"/></g>
<g class="n">
<rect class="b" x="1544" y="158" width="132" height="1"/>
<rect class="b" x="1544" y="159" width="132" height="1" fill-opacity="0.333"/>
<rect class="b" x="1544" y="198" width="132" height="1"/>
<rect class="b" x="1544" y="199" width="132" height="1" fill-opacity="0.333"/>
<rect class="b" x="1544" y="160" width="1" height="38"/>
<rect class="b" x="1545" y="160" width="1" height="38" fill-opacity="0.333"/>
<rect class="b" x="1674" y="160" width="1" height="38" fill-opacity="0.333"/>
<rect class="b" x="1675" y="160" width="1" height="38"/>
<text x="1555 1562 1569 1576 1580 1584 1593 1596 1607 1614 1617 1624 1628 1635 1639 1643 1654 1661" y="175">ns3::SimulatorImpl</text>
<text x="1572 1576 1580 1590 1597 1601 1611 1618 1625 1629 1636 1643" y="189">::GetContext</text>
</g>
<g class="e"><path d="M1442.2,183C1471.2,182.24 1503.09,181.41 1531.15,180.68"/><polygon points="1531.12,176.01 1544.57,180.33 1531.36,185.35 1531.12,176.01"/></g>
<g class="n">
<rect class="b" x="1299" y="644" width="105" height="1"/>
<rect class="b" x="1298" y="644" width="1" height="1" fill-opacity="0.333"/>
<rect class="b" x="1299" y="645" width="105" height="1" fill-opacity="0.333"/>
<rect class="b" x="1298" y="645" width="1" height="1" fill-opacity="0.111"/>
<rect class="b" x="1299" y="669" width="105" height="1" fill-opacity="0.667"/>
<rect class="b" x="1298" y="669" width="1" height="1" fill-opacity="0.222"/>
<rect class="b" x="1299" y="670" width="105" height="1" fill-opacity="0.667"/>
<rect class="b" x="1298" y="670" width="1" height="1" fill-opacity="0.222"/>
<rect class="b" x="1298" y="646" width="1" height="23" fill-opacity="0.333"/>
<rect class="b" x="1299" y="646" width="1" height="23"/>
<rect class="b" x="1402" y="646" width="1" height="23" fill-opacity="0.333"/>
<rect class="b" x="1403" y="646" width="1" height="23"/>
<text x="1310 1317 1324 1331 1335 1339 1347 1350 1361 1368 1372 1376 1385" y="661">ns3::Time::As</text>
</g>
<g class="e"><path d="M1166.08,695.21C1202.71,687.67 1249,678.13 1285.96,670.52"/><polygon points="1285.13,665.93 1299.13,667.81 1287.01,675.07 1285.13,665.93"/></g>
<g class="n">
<rect class="b" x="1266" y="694" width="171" height="1" fill-opacity="0.333"/>
<rect class="b" x="1265" y="694" width="1" height="1" fill-opacity="0.222"/>
<rect class="b" x="1437" y="694" width="1" height="1" fill-opacity="0.111"/>
<rect class="b" x="1266" y="695" width="171" height="1"/>
<rect class="b" x="1265" y="695" width="1" height="1" fill-opacity="0.667"/>
<rect class="b" x="1437" y="695" width="1" height="1" fill-opacity="0.333"/>
<rect class="b" x="1266" y="720" width="171" height="1"/>
<rect class="b" x="1265" y="720" width="1" height="1" fill-opacity="0.667"/>
<rect class="b" x="1437" y="720" width="1" height="1" fill-opacity="0.333"/>
<rect class="b" x="1266" y="721" width="171" height="1" fill-opacity="0.333"/>
<rect class="b" x="1265" y="721" width="1" height="1" fill-opacity="0.222"/>
<rect class="b" x="1437" y="721" width="1" height="1" fill-opacity="0.111"/>
<rect class="b" x="1265" y="696" width="1" height="24" fill-opacity="0.667"/>
<rect class="b" x="1266" y="696" width="1" height="24" fill-opacity="0.667"/>
<rect class="b" x="1436" y="696" width="1" height="24"/>
<rect class="b" x="1437" y="696" width="1" height="24" fill-opacity="0.333"/>
<text x="1277 1284 1291 1298 1302 1306 1314 1317 1328 1335 1339 1343 1353 1360 1364 1374 1381 1388 1395 1398 1405 1409 1412 1419" y="711">ns3::Time::GetResolution</text>
</g>
<g class="e"><path d="M1182.85,708C1204.93,708 1229.21,708 1252.25,708"/><polygon points="1252.32,703.33 1265.65,708 1252.32,712.67 1252.32,703.33"/></g>
<g class="e"><path d="M1166.08,720.79C1199.12,727.59 1240.03,736.01 1274.85,743.19"/><polygon points="1276.25,738.71 1288.37,745.97 1274.37,747.85 1276.25,738.71"/></g>
<g class="e"><path d="M1280.47,768.75C1208.45,775.84 1094.71,777.4 1009.33,733.33 954.51,705.04 914.48,641.39 895.56,606.08"/><polygon points="891.33,608.07 889.35,594.08 899.61,603.77 891.33,608.07"/></g>
<g class="n">
<rect class="b" x="1526" y="745" width="168" height="1" fill-opacity="0.667"/>
<rect class="b" x="1526" y="746" width="168" height="1" fill-opacity="0.667"/>
<rect class="b" x="1526" y="770" width="168" height="1" fill-opacity="0.333"/>
<rect class="b" x="1526" y="771" width="168" height="1"/>
<rect class="b" x="1526" y="747" width="1" height="23"/>
<rect class="b" x="1527" y="747" width="1" height="23" fill-opacity="0.333"/>
<rect class="b" x="1692" y="747" width="1" height="23" fill-opacity="0.333"/>
<rect class="b" x="1693" y="747" width="1" height="23"/>
<text x="1537 1544 1551 1558 1562 1566 1575 1578 1589 1596 1599 1606 1610 1617 1621 1625 1636 1643 1646 1650 1654 1664 1671" y="762">ns3::SimulatorImpl::Now</text>
</g>
<g class="e"><path d="M1422.28,758.67C1450.15,758.67 1482.71,758.67 1512.75,758.67"/><polygon points="1513.01,754 1526.35,758.67 1513.01,763.33 1513.01,754"/></g>
<g class="n">
<rect class="b" x="1278" y="224" width="146" height="1"/>
<rect class="b" x="1424" y="224" width="1" height="1" fill-opacity="0.667"/>
<rect class="b" x="1278" y="225" width="146" height="1" fill-opacity="0.333"/>
<rect class="b" x="1424" y="225" width="1" height="1" fill-opacity="0.222"/>
<rect class="b" x="1278" y="249" width="146" height="1" fill-opacity="0.667"/>
<rect class="b" x="1424" y="249" width="1" height="1" fill-opacity="0.444"/>
<rect class="b" x="1278" y="250" width="146" height="1" fill-opacity="0.667"/>
<rect class="b" x="1424" y="250" width="1" height="1" fill-opacity="0.444"/>
<rect class="b" x="1278" y="226" width="1" height="23"/>
<rect class="b" x="1279" y="226" width="1" height="23" fill-opacity="0.333"/>
<rect class="b" x="1423" y="226" width="1" height="23" fill-opacity="0.667"/>
<rect class="b" x="1424" y="226" width="1" height="23" fill-opacity="0.667"/>
<text x="1289 1296 1303 1310 1314 1318 1327 1331 1335 1338 1345 1352 1360 1367 1370 1377 1384 1388 1392 1401 1408" y="241">ns3::StringValue::Set</text>
</g>
<g class="e"><path d="M1174.96,375.31C1182.56,372.01 1189.77,367.87 1196,362.67 1233.83,331.05 1205.63,293.63 1244,262.67 1250.57,257.36 1258.07,253.15 1265.97,249.79"/><polygon points="1264.53,245.33 1278.67,245.19 1267.72,254.12 1264.53,245.33"/></g>
<g class="n">
<rect class="b" x="1244" y="274" width="215" height="1" fill-opacity="0.333"/>
<rect class="b" x="1243" y="274" width="1" height="1" fill-opacity="0.222"/>
<rect class="b" x="1459" y="274" width="1" height="1" fill-opacity="0.111"/>
<rect class="b" x="1244" y="275" width="215" height="1"/>
<rect class="b" x="1243" y="275" width="1" height="1" fill-opacity="0.667"/>
<rect class="b" x="1459" y="275" width="1" height="1" fill-opacity="0.333"/>
<rect class="b" x="1244" y="300" width="215" height="1"/>
<rect class="b" x="1243" y="300" width="1" height="1" fill-opacity="0.667"/>
<rect class="b" x="1459" y="300" width="1" height="1" fill-opacity="0.333"/>
<rect class="b" x="1244" y="301" width="215" height="1" fill-opacity="0.333"/>
<rect class="b" x="1243" y="301" width="1" height="1" fill-opacity="0.222"/>
<rect class="b" x="1459" y="301" width="1" height="1" fill-opacity="0.111"/>
<rect class="b" x="1243" y="276" width="1" height="24" fill-opacity="0.667"/>
<rect class="b" x="1244" y="276" width="1" height="24" fill-opacity="0.667"/>
<rect class="b" x="1458" y="276" width="1" height="24"/>
<rect class="b" x="1459" y="276" width="1" height="24" fill-opacity="0.333"/>
<text x="1255 1262 1269 1276 1280 1284 1294 1301 1308 1315 1322 1331 1338 1345 1348 1352 1359 1366 1377 1384 1391 1395 1403 1410 1414 1417 1424 1431 1434 1441" y="291">ns3::CheckEnvironmentVariables</text>
</g>
<g class="e"><path d="M1174.83,425.8C1182.44,422.53 1189.69,418.45 1196,413.33 1232.2,383.92 1208.16,349.85 1244,320 1250.69,314.43 1258.33,309.83 1266.37,306.03"/><polygon points="1265.16,301.48 1279.27,300.69 1268.73,310.11 1265.16,301.48"/></g>
<g class="n">
<rect class="b" x="1532" y="224" width="156" height="1"/>
<rect class="b" x="1532" y="225" width="156" height="1" fill-opacity="0.333"/>
<rect class="b" x="1532" y="249" width="156" height="1" fill-opacity="0.667"/>
<rect class="b" x="1532" y="250" width="156" height="1" fill-opacity="0.667"/>
<rect class="b" x="1532" y="226" width="1" height="23"/>
<rect class="b" x="1533" y="226" width="1" height="23" fill-opacity="0.333"/>
<rect class="b" x="1686" y="226" width="1" height="23" fill-opacity="0.333"/>
<rect class="b" x="1687" y="226" width="1" height="23"/>
<text x="1543 1550 1557 1564 1568 1572 1582 1589 1600 1607 1614 1621 1628 1635 1639 1648 1655 1658 1665 1669" y="241">ns3::ComponentExists</text>
</g>
<g class="e"><path d="M1417.27,275.21C1451.96,268.35 1494.97,259.84 1531.43,252.63"/><polygon points="1530.55,248.04 1544.53,250.03 1532.36,257.2 1530.55,248.04"/></g>
<g class="n">
<rect class="b" x="1516" y="274" width="188" height="1" fill-opacity="0.333"/>
<rect class="b" x="1516" y="275" width="188" height="1"/>
<rect class="b" x="1516" y="300" width="188" height="1"/>
<rect class="b" x="1516" y="301" width="188" height="1" fill-opacity="0.333"/>
<rect class="b" x="1516" y="276" width="1" height="24"/>
<rect class="b" x="1517" y="276" width="1" height="24" fill-opacity="0.333"/>
<rect class="b" x="1702" y="276" width="1" height="24" fill-opacity="0.333"/>
<rect class="b" x="1703" y="276" width="1" height="24"/>
<text x="1527 1534 1541 1548 1552 1556 1563 1570 1577 1587 1594 1605 1612 1619 1626 1633 1640 1644 1653 1657 1660 1667 1671 1678 1681 1688" y="291">ns3::LogComponentPrintList</text>
</g>
<g class="e"><path d="M1459.01,288C1473.48,288 1488.33,288 1502.79,288"/><polygon points="1503.19,283.33 1516.52,288 1503.19,292.67 1503.19,283.33"/></g>
<g class="n">
<rect class="b" x="1806" y="216" width="147" height="1" fill-opacity="0.333"/>
<rect class="b" x="1805" y="216" width="1" height="1" fill-opacity="0.222"/>
<rect class="b" x="1953" y="216" width="1" height="1" fill-opacity="0.111"/>
<rect class="b" x="1806" y="217" width="147" height="1"/>
<rect class="b" x="1805" y="217" width="1" height="1" fill-opacity="0.667"/>
<rect class="b" x="1953" y="217" width="1" height="1" fill-opacity="0.333"/>
<rect class="b" x="1806" y="256" width="147" height="1" fill-opacity="0.333"/>
<rect class="b" x="1805" y="256" width="1" height="1" fill-opacity="0.222"/>
<rect class="b" x="1953" y="256" width="1" height="1" fill-opacity="0.111"/>
<rect class="b" x="1806" y="257" width="147" height="1"/>
<rect class="b" x="1805" y="257" width="1" height="1" fill-opacity="0.667"/>
<rect class="b" x="1953" y="257" width="1" height="1" fill-opacity="0.333"/>
<rect class="b" x="1805" y="218" width="1" height="38" fill-opacity="0.667"/>
<rect class="b" x="1806" y="218" width="1" height="38" fill-opacity="0.667"/>
<rect class="b" x="1952" y="218" width="1" height="38"/>
<rect class="b" x="1953" y="218" width="1" height="38" fill-opacity="0.333"/>
<text x="1817 1824 1831 1838 1842 1846 1853 1860 1867 1877 1884 1895 1902 1909 1916 1923 1930 1934 1938" y="233">ns3::LogComponent::</text>
<text x="1825 1835 1842 1846 1856 1863 1874 1881 1888 1895 1902 1909 1913 1920 1923 1930" y="248">GetComponentList</text>
</g>
<g class="e"><path d="M1687.39,237.33C1720.13,237.33 1758.57,237.33 1792.31,237.33"/><polygon points="1792.63,232.67 1805.96,237.33 1792.63,242 1792.63,232.67"/></g>
<g class="e"><path d="M1678.28,275.28C1712.91,268.71 1755.55,260.6 1792.53,253.57"/><polygon points="1791.91,248.95 1805.88,251.04 1793.65,258.11 1791.91,248.95"/></g>
<g class="e"><path d="M1677.12,709.41C1690.85,714.56 1703.97,722.15 1713.33,733.33 1804.85,842.73 1653.19,957.65 1761.33,1050.67 1840.85,1119.07 1905.65,1101.63 1997.33,1050.67 2002.72,1047.67 2093.09,898.87 2129.23,839.12"/><polygon points="2125.37,836.49 2136.25,827.49 2133.36,841.32 2125.37,836.49"/></g>
<g class="e"><path d="M961.44,185.33C1039.76,185.33 1160.79,185.33 1246.95,185.33"/><polygon points="1247.12,180.67 1260.45,185.33 1247.12,190 1247.12,180.67"/></g>
<g class="n">
<rect class="b" x="1009" y="106" width="187" height="1"/>
<rect class="b" x="1008" y="106" width="1" height="1" fill-opacity="0.333"/>
<rect class="b" x="1196" y="106" width="1" height="1" fill-opacity="0.667"/>
<rect class="b" x="1009" y="107" width="187" height="1" fill-opacity="0.333"/>
<rect class="b" x="1008" y="107" width="1" height="1" fill-opacity="0.111"/>
<rect class="b" x="1196" y="107" width="1" height="1" fill-opacity="0.222"/>
<rect class="b" x="1009" y="146" width="187" height="1"/>
<rect class="b" x="1008" y="146" width="1" height="1" fill-opacity="0.333"/>
<rect class="b" x="1196" y="146" width="1" height="1" fill-opacity="0.667"/>
<rect class="b" x="1009" y="147" width="187" height="1" fill-opacity="0.333"/>
<rect class="b" x="1008" y="147" width="1" height="1" fill-opacity="0.111"/>
<rect class="b" x="1196" y="147" width="1" height="1" fill-opacity="0.222"/>
<rect class="b" x="1008" y="108" width="1" height="38" fill-opacity="0.333"/>
<rect class="b" x="1009" y="108" width="1" height="38"/>
<rect class="b" x="1195" y="108" width="1" height="38" fill-opacity="0.667"/>
<rect class="b" x="1196" y="108" width="1" height="38" fill-opacity="0.667"/>
<text x="1020 1027 1034 1041 1045 1049 1059 1066 1073 1084 1091 1095 1099 1102 1109 1116 1120 1124 1132 1136 1143 1150 1157 1170 1173 1177" y="123">ns3::DesMetrics::TraceWith</text>
<text x="1079 1089 1096 1103 1107 1114 1121" y="137">Context</text>
</g>
<g class="e"><path d="M930.64,172.6C954.96,166.05 985.4,157.87 1013.81,150.23"/><polygon points="1012.6,145.71 1026.69,146.76 1015.03,154.72 1012.6,145.71"/></g>
<g class="e"><path d="M1187.97,146.69C1219.23,154.15 1254.25,162.49 1283.71,169.52"/><polygon points="1284.93,165.01 1296.81,172.65 1282.76,174.09 1284.93,165.01"/></g>
<g class="n">
<rect class="b" x="1268" y="113" width="166" height="1" fill-opacity="0.667"/>
<rect class="b" x="1434" y="113" width="1" height="1" fill-opacity="0.444"/>
<rect class="b" x="1268" y="114" width="166" height="1" fill-opacity="0.667"/>
<rect class="b" x="1434" y="114" width="1" height="1" fill-opacity="0.444"/>
<rect class="b" x="1268" y="138" width="166" height="1" fill-opacity="0.333"/>
<rect class="b" x="1434" y="138" width="1" height="1" fill-opacity="0.222"/>
<rect class="b" x="1268" y="139" width="166" height="1"/>
<rect class="b" x="1434" y="139" width="1" height="1" fill-opacity="0.667"/>
<rect class="b" x="1268" y="115" width="1" height="23"/>
<rect class="b" x="1269" y="115" width="1" height="23" fill-opacity="0.333"/>
<rect class="b" x="1433" y="115" width="1" height="23" fill-opacity="0.667"/>
<rect class="b" x="1434" y="115" width="1" height="23" fill-opacity="0.667"/>
<text x="1279 1286 1293 1300 1304 1308 1316 1319 1330 1337 1341 1345 1355 1362 1366 1374 1377 1388 1395 1404 1408 1415" y="130">ns3::Time::GetTimeStep</text>
</g>
<g class="e"><path d="M1196.31,126.67C1215.39,126.67 1235.53,126.67 1254.72,126.67"/><polygon points="1255.17,122 1268.51,126.67 1255.17,131.33 1255.17,122"/></g>
<g class="n">
<rect class="b" x="1264" y="58" width="175" height="1" fill-opacity="0.333"/>
<rect class="b" x="1263" y="58" width="1" height="1" fill-opacity="0.222"/>
<rect class="b" x="1439" y="58" width="1" height="1" fill-opacity="0.111"/>
<rect class="b" x="1264" y="59" width="175" height="1"/>
<rect class="b" x="1263" y="59" width="1" height="1" fill-opacity="0.667"/>
<rect class="b" x="1439" y="59" width="1" height="1" fill-opacity="0.333"/>
<rect class="b" x="1264" y="84" width="175" height="1"/>
<rect class="b" x="1263" y="84" width="1" height="1" fill-opacity="0.667"/>
<rect class="b" x="1439" y="84" width="1" height="1" fill-opacity="0.333"/>
<rect class="b" x="1264" y="85" width="175" height="1" fill-opacity="0.333"/>
<rect class="b" x="1263" y="85" width="1" height="1" fill-opacity="0.222"/>
<rect class="b" x="1439" y="85" width="1" height="1" fill-opacity="0.111"/>
<rect class="b" x="1263" y="60" width="1" height="24" fill-opacity="0.667"/>
<rect class="b" x="1264" y="60" width="1" height="24" fill-opacity="0.667"/>
<rect class="b" x="1438" y="60" width="1" height="24"/>
<rect class="b" x="1439" y="60" width="1" height="24" fill-opacity="0.333"/>
<text x="1275 1282 1289 1296 1300 1304 1314 1321 1328 1339 1346 1350 1354 1357 1364 1371 1375 1379 1383 1390 1393 1397 1400 1407 1410 1413 1420" y="75">ns3::DesMetrics::Initialize</text>
</g>
<g class="e"><path d="M1194.2,106.63C1222.36,100.36 1252.99,93.56 1279.57,87.65"/><polygon points="1278.64,83.08 1292.67,84.73 1280.67,92.19 1278.64,83.08"/></g>
<g class="n">
<rect class="b" x="1522" y="5" width="176" height="1" fill-opacity="0.667"/>
<rect class="b" x="1522" y="6" width="176" height="1" fill-opacity="0.667"/>
<rect class="b" x="1522" y="30" width="176" height="1" fill-opacity="0.333"/>
<rect class="b" x="1522" y="31" width="176" height="1"/>
<rect class="b" x="1522" y="7" width="1" height="23"/>
<rect class="b" x="1523" y="7" width="1" height="23" fill-opacity="0.333"/>
<rect class="b" x="1696" y="7" width="1" height="23" fill-opacity="0.333"/>
<rect class="b" x="1697" y="7" width="1" height="23"/>
<text x="1533 1540 1547 1554 1558 1562 1571 1578 1585 1589 1596 1607 1616 1623 1627 1634 1638 1642 1651 1658 1665 1672 1679" y="22">ns3::SystemPath::Append</text>
</g>
<g class="e"><path d="M1413.99,59.23C1450.24,51.67 1496.4,42.05 1534.67,34.08"/><polygon points="1533.84,29.49 1547.85,31.33 1535.75,38.63 1533.84,29.49"/></g>
<g class="n">
<rect class="b" x="1530" y="56" width="160" height="1"/>
<rect class="b" x="1529" y="56" width="1" height="1" fill-opacity="0.667"/>
<rect class="b" x="1690" y="56" width="1" height="1" fill-opacity="0.667"/>
<rect class="b" x="1530" y="57" width="160" height="1" fill-opacity="0.333"/>
<rect class="b" x="1529" y="57" width="1" height="1" fill-opacity="0.222"/>
<rect class="b" x="1690" y="57" width="1" height="1" fill-opacity="0.222"/>
<rect class="b" x="1530" y="81" width="160" height="1" fill-opacity="0.667"/>
<rect class="b" x="1529" y="81" width="1" height="1" fill-opacity="0.444"/>
<rect class="b" x="1690" y="81" width="1" height="1" fill-opacity="0.444"/>
<rect class="b" x="1530" y="82" width="160" height="1" fill-opacity="0.667"/>
<rect class="b" x="1529" y="82" width="1" height="1" fill-opacity="0.444"/>
<rect class="b" x="1690" y="82" width="1" height="1" fill-opacity="0.444"/>
<rect class="b" x="1529" y="58" width="1" height="23" fill-opacity="0.667"/>
<rect class="b" x="1530" y="58" width="1" height="23" fill-opacity="0.667"/>
<rect class="b" x="1689" y="58" width="1" height="23" fill-opacity="0.667"/>
<rect class="b" x="1690" y="58" width="1" height="23" fill-opacity="0.667"/>
<text x="1541 1548 1555 1562 1566 1570 1580 1587 1594 1605 1612 1616 1620 1623 1630 1637 1641 1645 1655 1658 1665 1672" y="73">ns3::DesMetrics::Close</text>
</g>
<g class="e"><path d="M1438.97,71.11C1463.84,70.84 1491.04,70.56 1516.25,70.29"/><polygon points="1516.24,65.63 1529.63,70.16 1516.33,74.96 1516.24,65.63"/></g>
<g class="n">
<rect class="b" x="1531" y="106" width="158" height="1" fill-opacity="0.333"/>
<rect class="b" x="1530" y="106" width="1" height="1" fill-opacity="0.111"/>
<rect class="b" x="1689" y="106" width="1" height="1" fill-opacity="0.111"/>
<rect class="b" x="1531" y="107" width="158" height="1"/>
<rect class="b" x="1530" y="107" width="1" height="1" fill-opacity="0.333"/>
<rect class="b" x="1689" y="107" width="1" height="1" fill-opacity="0.333"/>
<rect class="b" x="1531" y="132" width="158" height="1"/>
<rect class="b" x="1530" y="132" width="1" height="1" fill-opacity="0.333"/>
<rect class="b" x="1689" y="132" width="1" height="1" fill-opacity="0.333"/>
<rect class="b" x="1531" y="133" width="158" height="1" fill-opacity="0.333"/>
<rect class="b" x="1530" y="133" width="1" height="1" fill-opacity="0.111"/>
<rect class="b" x="1689" y="133" width="1" height="1" fill-opacity="0.111"/>
<rect class="b" x="1530" y="108" width="1" height="24" fill-opacity="0.333"/>
<rect class="b" x="1531" y="108" width="1" height="24"/>
<rect class="b" x="1688" y="108" width="1" height="24"/>
<rect class="b" x="1689" y="108" width="1" height="24" fill-opacity="0.333"/>
<text x="1542 1549 1556 1563 1567 1571 1580 1587 1594 1598 1605 1616 1625 1632 1636 1643 1647 1651 1660 1667 1670 1673" y="123">ns3::SystemPath::Split</text>
</g>
<g class="e"><path d="M1420.27,84.68C1453.09,90.83 1492.79,98.27 1527.27,104.73"/><polygon points="1528.44,100.21 1540.69,107.25 1526.72,109.39 1528.44,100.21"/></g>
<g class="e"><path d="M707.61,1140.65C752.37,1150.49 812.77,1163.76 849.11,1171.73"/><polygon points="850.17,1167.19 862.2,1174.61 848.17,1176.31 850.17,1167.19"/></g>
</svg>
</body>
</html>
